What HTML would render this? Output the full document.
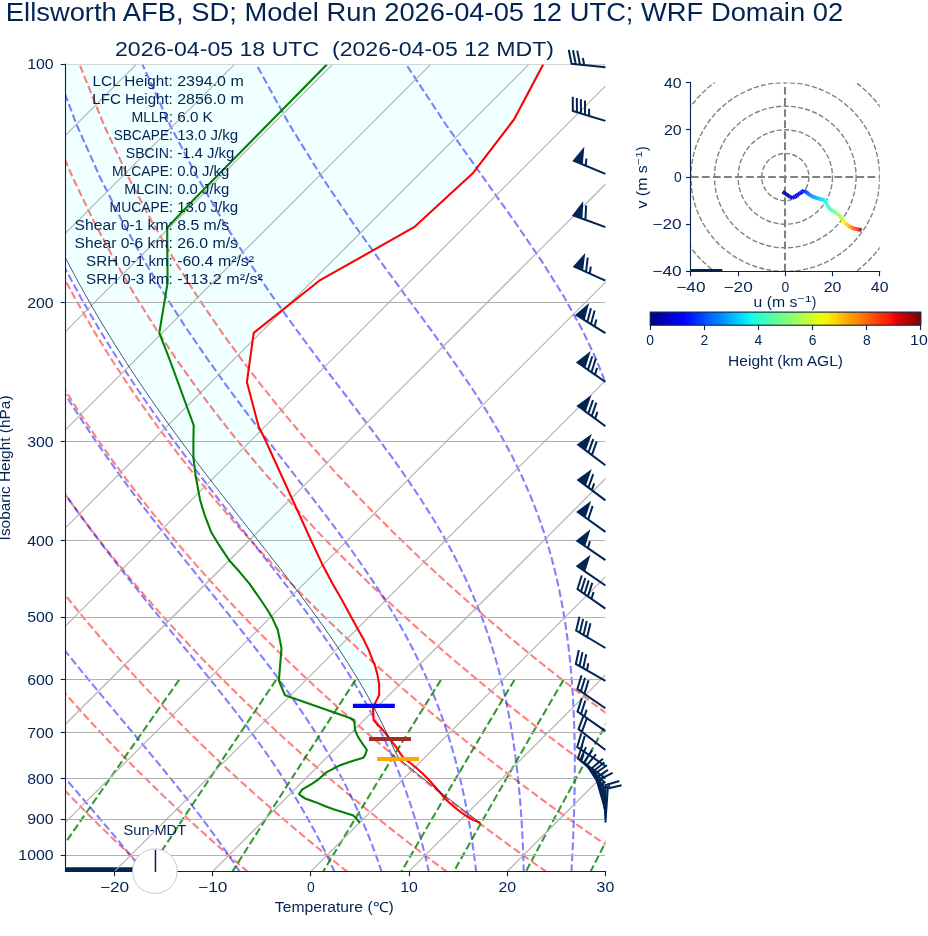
<!DOCTYPE html>
<html><head><meta charset="utf-8"><title>Skew-T Ellsworth AFB</title>
<style>
html,body{margin:0;padding:0;background:#fff;}
body{width:928px;height:936px;overflow:hidden;font-family:"Liberation Sans",sans-serif;}
svg{display:block;font-family:"Liberation Sans",sans-serif;opacity:0.9999;will-change:transform;}
svg text{white-space:pre;}
</style></head><body>
<svg width="928" height="936" viewBox="0 0 928 936">
<rect width="928" height="936" fill="#ffffff"/>
<defs><clipPath id="cm"><rect x="65.5" y="64.4" width="539.9" height="807"/></clipPath></defs>
<g clip-path="url(#cm)">
<polygon points="-11.9,64.4 -11.65,65.24 -11.4,66.09 -11.15,66.93 -10.9,67.77 -10.65,68.62 -10.4,69.46 -10.15,70.31 -9.91,71.15 -9.66,71.99 -9.41,72.84 -9.15,73.68 -8.9,74.52 -8.64,75.37 -8.38,76.21 -8.13,77.06 -7.87,77.9 -7.61,78.74 -7.35,79.59 -7.1,80.43 -6.84,81.27 -6.58,82.12 -6.32,82.96 -6.05,83.81 -5.79,84.65 -5.52,85.49 -5.26,86.34 -4.99,87.18 -4.73,88.02 -4.46,88.87 -4.2,89.71 -3.93,90.56 -3.66,91.4 -3.39,92.24 -3.11,93.09 -2.84,93.93 -2.57,94.77 -2.29,95.62 -2.02,96.46 -1.75,97.3 -1.47,98.15 -1.2,98.99 -0.92,99.84 -0.64,100.68 -0.36,101.52 -0.08,102.37 0.2,103.21 0.48,104.05 0.76,104.9 1.05,105.74 1.33,106.59 1.61,107.43 1.89,108.27 2.18,109.12 2.47,109.96 2.76,110.8 3.05,111.65 3.34,112.49 3.63,113.34 3.92,114.18 4.21,115.02 4.5,115.87 4.79,116.71 5.08,117.55 5.38,118.4 5.68,119.24 5.97,120.09 6.27,120.93 6.57,121.77 6.87,122.62 7.17,123.46 7.46,124.3 7.76,125.15 8.06,125.99 8.37,126.83 8.67,127.68 8.98,128.52 9.29,129.37 9.59,130.21 9.9,131.05 10.21,131.9 10.51,132.74 10.82,133.58 11.12,134.43 11.44,135.27 11.75,136.12 12.07,136.96 12.38,137.8 12.7,138.65 13.01,139.49 13.33,140.33 13.64,141.18 13.96,142.02 14.27,142.87 14.59,143.71 14.91,144.55 15.23,145.4 15.56,146.24 15.88,147.08 16.2,147.93 16.53,148.77 16.85,149.62 17.17,150.46 17.5,151.3 17.82,152.15 18.15,152.99 18.48,153.83 18.81,154.68 19.15,155.52 19.48,156.36 19.81,157.21 20.14,158.05 20.47,158.9 20.81,159.74 21.14,160.58 21.47,161.43 21.81,162.27 22.15,163.11 22.49,163.96 22.83,164.8 23.17,165.65 23.52,166.49 23.86,167.33 24.2,168.18 24.54,169.02 24.88,169.86 25.23,170.71 25.57,171.55 25.92,172.4 26.27,173.24 26.62,174.08 26.97,174.93 27.32,175.77 27.67,176.61 28.02,177.46 28.37,178.3 28.72,179.15 29.08,179.99 29.44,180.83 29.8,181.68 30.15,182.52 30.51,183.36 30.87,184.21 31.23,185.05 31.59,185.89 31.94,186.74 32.3,187.58 32.67,188.43 33.04,189.27 33.4,190.11 33.77,190.96 34.14,191.8 34.5,192.64 34.87,193.49 35.24,194.33 35.6,195.18 35.97,196.02 36.34,196.86 36.72,197.71 37.09,198.55 37.47,199.39 37.84,200.24 38.22,201.08 38.6,201.93 38.97,202.77 39.35,203.61 39.72,204.46 40.1,205.3 40.48,206.14 40.87,206.99 41.25,207.83 41.64,208.68 42.02,209.52 42.41,210.36 42.79,211.21 43.18,212.05 43.56,212.89 43.95,213.74 44.34,214.58 44.73,215.43 45.12,216.27 45.52,217.11 45.91,217.96 46.31,218.8 46.7,219.64 47.09,220.49 47.49,221.33 47.88,222.17 48.28,223.02 48.68,223.86 49.08,224.71 49.48,225.55 49.89,226.39 50.29,227.24 50.69,228.08 51.09,228.92 51.5,229.77 51.9,230.61 52.3,231.46 52.71,232.3 53.12,233.14 53.54,233.99 53.95,234.83 54.36,235.67 54.77,236.52 55.18,237.36 55.59,238.21 56.01,239.05 56.42,239.89 56.83,240.74 57.26,241.58 57.68,242.42 58.1,243.27 58.52,244.11 58.94,244.96 59.36,245.8 59.78,246.64 60.2,247.49 60.62,248.33 61.04,249.17 61.47,250.02 61.9,250.86 62.33,251.7 62.76,252.55 63.19,253.39 63.62,254.24 64.05,255.08 64.48,255.92 64.91,256.77 65.34,257.61 65.78,258.45 66.22,259.3 66.66,260.14 67.1,260.99 67.54,261.83 67.98,262.67 68.42,263.52 68.86,264.36 69.29,265.2 69.73,266.05 70.17,266.89 70.62,267.74 71.07,268.58 71.52,269.42 71.97,270.27 72.42,271.11 72.87,271.95 73.32,272.8 73.76,273.64 74.21,274.49 74.66,275.33 75.12,276.17 75.57,277.02 76.03,277.86 76.49,278.7 76.95,279.55 77.41,280.39 77.86,281.23 78.32,282.08 78.78,282.92 79.24,283.77 79.7,284.61 80.17,285.45 80.63,286.3 81.1,287.14 81.57,287.98 82.04,288.83 82.5,289.67 82.97,290.52 83.44,291.36 83.91,292.2 84.37,293.05 84.85,293.89 85.33,294.73 85.8,295.58 86.28,296.42 86.76,297.27 87.23,298.11 87.71,298.95 88.19,299.8 88.66,300.64 89.14,301.48 89.62,302.33 90.11,303.17 90.59,304.02 91.08,304.86 91.57,305.7 92.05,306.55 92.54,307.39 93.03,308.23 93.51,309.08 94,309.92 94.48,310.76 94.98,311.61 95.48,312.45 95.97,313.3 96.47,314.14 96.96,314.98 97.46,315.83 97.95,316.67 98.45,317.51 98.95,318.36 99.44,319.2 99.94,320.05 100.45,320.89 100.95,321.73 101.46,322.58 101.96,323.42 102.47,324.26 102.97,325.11 103.48,325.95 103.98,326.8 104.49,327.64 105,328.48 105.51,329.33 106.03,330.17 106.54,331.01 107.06,331.86 107.57,332.7 108.08,333.55 108.6,334.39 109.11,335.23 109.63,336.08 110.14,336.92 110.66,337.76 111.19,338.61 111.71,339.45 112.24,340.29 112.76,341.14 113.29,341.98 113.81,342.83 114.33,343.67 114.86,344.51 115.38,345.36 115.91,346.2 116.44,347.04 116.98,347.89 117.51,348.73 118.04,349.58 118.58,350.42 119.11,351.26 119.64,352.11 120.18,352.95 120.71,353.79 121.24,354.64 121.79,355.48 122.33,356.33 122.87,357.17 123.42,358.01 123.96,358.86 124.5,359.7 125.04,360.54 125.59,361.39 126.13,362.23 126.67,363.08 127.22,363.92 127.77,364.76 128.33,365.61 128.88,366.45 129.43,367.29 129.98,368.14 130.53,368.98 131.09,369.82 131.64,370.67 132.19,371.51 132.74,372.36 133.31,373.2 133.87,374.04 134.43,374.89 134.99,375.73 135.55,376.57 136.11,377.42 136.68,378.26 137.24,379.11 137.8,379.95 138.36,380.79 138.93,381.64 139.5,382.48 140.07,383.32 140.64,384.17 141.21,385.01 141.78,385.86 142.35,386.7 142.92,387.54 143.49,388.39 144.06,389.23 144.64,390.07 145.22,390.92 145.8,391.76 146.38,392.61 146.95,393.45 147.53,394.29 148.11,395.14 148.69,395.98 149.27,396.82 149.85,397.67 150.43,398.51 151.02,399.35 151.61,400.2 152.2,401.04 152.79,401.89 153.37,402.73 153.96,403.57 154.55,404.42 155.14,405.26 155.73,406.1 156.32,406.95 156.91,407.79 157.51,408.64 158.1,409.48 158.7,410.32 159.3,411.17 159.89,412.01 160.49,412.85 161.09,413.7 161.69,414.54 162.28,415.39 162.88,416.23 163.49,417.07 164.09,417.92 164.7,418.76 165.3,419.6 165.91,420.45 166.51,421.29 167.12,422.14 167.73,422.98 168.33,423.82 168.94,424.67 169.55,425.51 170.16,426.35 170.77,427.2 171.39,428.04 172,428.88 172.62,429.73 173.23,430.57 173.84,431.42 174.46,432.26 175.07,433.1 175.68,433.95 176.31,434.79 176.93,435.63 177.55,436.48 178.17,437.32 178.79,438.17 179.41,439.01 180.04,439.85 180.66,440.7 181.28,441.54 181.9,442.38 182.53,443.23 183.16,444.07 183.79,444.92 184.41,445.76 185.04,446.6 185.67,447.45 186.3,448.29 186.93,449.13 187.56,449.98 188.19,450.82 188.82,451.67 189.45,452.51 190.09,453.35 190.73,454.2 191.36,455.04 192,455.88 192.63,456.73 193.27,457.57 193.91,458.42 194.54,459.26 195.18,460.1 195.82,460.95 196.46,461.79 197.1,462.63 197.75,463.48 198.39,464.32 199.03,465.16 199.67,466.01 200.32,466.85 200.96,467.7 201.6,468.54 202.25,469.38 202.9,470.23 203.54,471.07 204.19,471.91 204.84,472.76 205.49,473.6 206.14,474.45 206.79,475.29 207.43,476.13 208.08,476.98 208.73,477.82 209.38,478.66 210.04,479.51 210.69,480.35 211.35,481.2 212,482.04 212.65,482.88 213.31,483.73 213.96,484.57 214.61,485.41 215.27,486.26 215.92,487.1 216.58,487.95 217.24,488.79 217.9,489.63 218.56,490.48 219.21,491.32 219.87,492.16 220.53,493.01 221.19,493.85 221.85,494.69 222.51,495.54 223.17,496.38 223.83,497.23 224.49,498.07 225.15,498.91 225.82,499.76 226.48,500.6 227.14,501.44 227.8,502.29 228.47,503.13 229.13,503.98 229.79,504.82 230.46,505.66 231.12,506.51 231.79,507.35 232.45,508.19 233.12,509.04 233.78,509.88 234.45,510.73 235.11,511.57 235.78,512.41 236.44,513.26 237.11,514.1 237.78,514.94 238.44,515.79 239.11,516.63 239.78,517.48 240.44,518.32 241.11,519.16 241.78,520.01 242.45,520.85 243.11,521.69 243.78,522.54 244.45,523.38 245.12,524.22 245.78,525.07 246.45,525.91 247.12,526.76 247.79,527.6 248.46,528.44 249.12,529.29 249.79,530.13 250.46,530.97 251.13,531.82 251.8,532.66 252.46,533.51 253.13,534.35 253.8,535.19 254.47,536.04 255.14,536.88 255.8,537.72 256.47,538.57 257.14,539.41 257.81,540.26 258.47,541.1 259.14,541.94 259.81,542.79 260.47,543.63 261.14,544.47 261.81,545.32 262.47,546.16 263.14,547.01 263.81,547.85 264.47,548.69 265.14,549.54 265.8,550.38 266.47,551.22 267.13,552.07 267.8,552.91 268.46,553.75 269.13,554.6 269.79,555.44 270.45,556.29 271.12,557.13 271.78,557.97 272.44,558.82 273.1,559.66 273.76,560.5 274.42,561.35 275.08,562.19 275.74,563.04 276.41,563.88 277.07,564.72 277.73,565.57 278.38,566.41 279.04,567.25 279.7,568.1 280.35,568.94 281.01,569.79 281.67,570.63 282.32,571.47 282.98,572.32 283.63,573.16 284.29,574 284.94,574.85 285.59,575.69 286.24,576.54 286.89,577.38 287.54,578.22 288.19,579.07 288.84,579.91 289.49,580.75 290.14,581.6 290.79,582.44 291.44,583.28 292.09,584.13 292.73,584.97 293.37,585.82 294.02,586.66 294.66,587.5 295.3,588.35 295.94,589.19 296.59,590.03 297.23,590.88 297.87,591.72 298.51,592.57 299.14,593.41 299.78,594.25 300.41,595.1 301.05,595.94 301.68,596.78 302.31,597.63 302.95,598.47 303.58,599.32 304.22,600.16 304.85,601 305.47,601.85 306.1,602.69 306.72,603.53 307.35,604.38 307.97,605.22 308.6,606.07 309.22,606.91 309.84,607.75 310.47,608.6 311.09,609.44 311.71,610.28 312.32,611.13 312.94,611.97 313.55,612.81 314.16,613.66 314.78,614.5 315.39,615.35 316,616.19 316.62,617.03 317.23,617.88 317.84,618.72 318.44,619.56 319.04,620.41 319.64,621.25 320.25,622.1 320.85,622.94 321.45,623.78 322.05,624.63 322.65,625.47 323.25,626.31 323.85,627.16 324.44,628 325.03,628.85 325.62,629.69 326.21,630.53 326.8,631.38 327.39,632.22 327.97,633.06 328.56,633.91 329.15,634.75 329.74,635.6 330.32,636.44 330.9,637.28 331.47,638.13 332.04,638.97 332.62,639.81 333.19,640.66 333.77,641.5 334.34,642.34 334.91,643.19 335.49,644.03 336.06,644.88 336.62,645.72 337.18,646.56 337.74,647.41 338.3,648.25 338.86,649.09 339.42,649.94 339.98,650.78 340.54,651.63 341.1,652.47 341.66,653.31 342.21,654.16 342.75,655 343.3,655.84 343.84,656.69 344.39,657.53 344.93,658.38 345.47,659.22 346.02,660.06 346.56,660.91 347.1,661.75 347.65,662.59 348.18,663.44 348.7,664.28 349.23,665.13 349.76,665.97 350.29,666.81 350.81,667.66 351.34,668.5 351.87,669.34 352.4,670.19 352.92,671.03 353.44,671.87 353.95,672.72 354.46,673.56 354.98,674.41 355.49,675.25 356,676.09 356.51,676.94 357.02,677.78 357.53,678.62 358.04,679.47 358.55,680.31 359.04,681.16 359.54,682 360.03,682.84 360.53,683.69 361.02,684.53 361.51,685.37 362.01,686.22 362.5,687.06 363,687.91 363.49,688.75 363.97,689.59 364.45,690.44 364.93,691.28 365.4,692.12 365.88,692.97 366.36,693.81 366.83,694.66 367.31,695.5 367.79,696.34 368.26,697.19 368.73,698.03 369.19,698.87 369.65,699.72 370.11,700.56 370.57,701.41 371.03,702.25 371.49,703.09 371.95,703.94 372.41,704.78 372.87,705.62 373.33,706.47 373.8,706.47 374.13,705.62 374.46,704.78 374.79,703.94 375.15,703.09 375.58,702.25 376,701.41 376.42,700.56 376.84,699.72 377.26,698.87 377.68,698.03 378.11,697.19 378.53,696.34 378.95,695.5 379.2,694.66 379.19,693.81 379.18,692.97 379.17,692.12 379.17,691.28 379.16,690.44 379.15,689.59 379.14,688.75 379.14,687.91 379.13,687.06 379.12,686.22 379.11,685.37 379.1,684.53 379.04,683.69 378.9,682.84 378.75,682 378.6,681.16 378.45,680.31 378.3,679.47 378.15,678.62 378.01,677.78 377.86,676.94 377.71,676.09 377.56,675.25 377.37,674.41 377.14,673.56 376.92,672.72 376.7,671.87 376.47,671.03 376.25,670.19 376.02,669.34 375.8,668.5 375.57,667.66 375.35,666.81 375.12,665.97 374.83,665.13 374.45,664.28 374.06,663.44 373.68,662.59 373.3,661.75 372.91,660.91 372.53,660.06 372.21,659.22 371.9,658.38 371.59,657.53 371.28,656.69 370.96,655.84 370.65,655 370.34,654.16 370.03,653.31 369.72,652.47 369.41,651.63 369.09,650.78 368.68,649.94 368.28,649.09 367.87,648.25 367.46,647.41 367.06,646.56 366.65,645.72 366.24,644.88 365.84,644.03 365.43,643.19 365.02,642.34 364.62,641.5 364.21,640.66 363.8,639.81 363.35,638.97 362.88,638.13 362.41,637.28 361.94,636.44 361.48,635.6 361.01,634.75 360.54,633.91 360.07,633.06 359.6,632.22 359.13,631.38 358.66,630.53 358.19,629.69 357.73,628.85 357.26,628 356.79,627.16 356.33,626.31 355.86,625.47 355.39,624.63 354.93,623.78 354.46,622.94 354,622.1 353.53,621.25 353.07,620.41 352.6,619.56 352.14,618.72 351.67,617.88 351.2,617.03 350.74,616.19 350.28,615.35 349.83,614.5 349.37,613.66 348.91,612.81 348.46,611.97 348,611.13 347.54,610.28 347.08,609.44 346.63,608.6 346.17,607.75 345.71,606.91 345.26,606.07 344.8,605.22 344.34,604.38 343.89,603.53 343.43,602.69 342.97,601.85 342.51,601 342.06,600.16 341.59,599.32 341.1,598.47 340.61,597.63 340.12,596.78 339.63,595.94 339.14,595.1 338.65,594.25 338.16,593.41 337.67,592.57 337.18,591.72 336.69,590.88 336.2,590.03 335.71,589.19 335.22,588.35 334.73,587.5 334.24,586.66 333.75,585.82 333.26,584.97 332.77,584.13 332.32,583.28 331.88,582.44 331.43,581.6 330.99,580.75 330.54,579.91 330.1,579.07 329.65,578.22 329.21,577.38 328.76,576.54 328.32,575.69 327.87,574.85 327.43,574 326.98,573.16 326.54,572.32 326.09,571.47 325.65,570.63 325.2,569.79 324.76,568.94 324.31,568.1 323.87,567.25 323.42,566.41 322.98,565.57 322.53,564.72 322.09,563.88 321.69,563.04 321.3,562.19 320.9,561.35 320.51,560.5 320.11,559.66 319.72,558.82 319.32,557.97 318.93,557.13 318.53,556.29 318.14,555.44 317.74,554.6 317.35,553.75 316.95,552.91 316.56,552.07 316.16,551.22 315.76,550.38 315.37,549.54 314.97,548.69 314.58,547.85 314.18,547.01 313.79,546.16 313.39,545.32 313,544.47 312.6,543.63 312.21,542.79 311.81,541.94 311.42,541.1 311.02,540.26 310.63,539.41 310.25,538.57 309.86,537.72 309.48,536.88 309.09,536.04 308.71,535.19 308.32,534.35 307.94,533.51 307.55,532.66 307.17,531.82 306.78,530.97 306.4,530.13 306.01,529.29 305.63,528.44 305.25,527.6 304.86,526.76 304.48,525.91 304.09,525.07 303.71,524.22 303.32,523.38 302.94,522.54 302.55,521.69 302.17,520.85 301.78,520.01 301.4,519.16 301.01,518.32 300.63,517.48 300.24,516.63 299.86,515.79 299.47,514.94 299.09,514.1 298.7,513.26 298.32,512.41 297.94,511.57 297.55,510.73 297.17,509.88 296.78,509.04 296.4,508.19 296.01,507.35 295.63,506.51 295.24,505.66 294.86,504.82 294.47,503.98 294.09,503.13 293.7,502.29 293.32,501.44 292.93,500.6 292.55,499.76 292.16,498.91 291.78,498.07 291.4,497.23 291.01,496.38 290.63,495.54 290.24,494.69 289.86,493.85 289.47,493.01 289.09,492.16 288.7,491.32 288.32,490.48 287.93,489.63 287.55,488.79 287.16,487.95 286.78,487.1 286.39,486.26 286.01,485.41 285.62,484.57 285.24,483.73 284.85,482.88 284.47,482.04 284.09,481.2 283.7,480.35 283.32,479.51 282.93,478.66 282.55,477.82 282.16,476.98 281.78,476.13 281.39,475.29 281.01,474.45 280.62,473.6 280.24,472.76 279.85,471.91 279.47,471.07 279.08,470.23 278.7,469.38 278.31,468.54 277.93,467.7 277.54,466.85 277.16,466.01 276.78,465.16 276.39,464.32 276.01,463.48 275.62,462.63 275.24,461.79 274.85,460.95 274.47,460.1 274.08,459.26 273.7,458.42 273.31,457.57 272.93,456.73 272.54,455.88 272.16,455.04 271.77,454.2 271.39,453.35 271,452.51 270.62,451.67 270.23,450.82 269.85,449.98 269.47,449.13 269.08,448.29 268.7,447.45 268.31,446.6 267.93,445.76 267.54,444.92 267.16,444.07 266.77,443.23 266.39,442.38 266,441.54 265.62,440.7 265.23,439.85 264.82,439.01 264.41,438.17 264,437.32 263.59,436.48 263.18,435.63 262.77,434.79 262.36,433.95 261.95,433.1 261.54,432.26 261.13,431.42 260.72,430.57 260.31,429.73 259.9,428.88 259.49,428.04 259.08,427.2 258.67,426.35 258.37,425.51 258.15,424.67 257.92,423.82 257.7,422.98 257.48,422.14 257.26,421.29 257.03,420.45 256.81,419.6 256.59,418.76 256.36,417.92 256.14,417.07 255.92,416.23 255.7,415.39 255.47,414.54 255.25,413.7 255.03,412.85 254.8,412.01 254.58,411.17 254.36,410.32 254.13,409.48 253.91,408.64 253.69,407.79 253.47,406.95 253.24,406.1 253.02,405.26 252.8,404.42 252.57,403.57 252.35,402.73 252.13,401.89 251.91,401.04 251.68,400.2 251.46,399.35 251.24,398.51 251.01,397.67 250.79,396.82 250.57,395.98 250.34,395.14 250.12,394.29 249.9,393.45 249.68,392.61 249.45,391.76 249.23,390.92 249.01,390.07 248.78,389.23 248.56,388.39 248.34,387.54 248.12,386.7 247.89,385.86 247.67,385.01 247.45,384.17 247.22,383.32 247,382.48 246.96,381.64 247.08,380.79 247.2,379.95 247.31,379.11 247.43,378.26 247.55,377.42 247.66,376.57 247.78,375.73 247.9,374.89 248.01,374.04 248.13,373.2 248.25,372.36 248.36,371.51 248.48,370.67 248.6,369.82 248.71,368.98 248.83,368.14 248.95,367.29 249.06,366.45 249.18,365.61 249.3,364.76 249.41,363.92 249.53,363.08 249.65,362.23 249.76,361.39 249.88,360.54 250,359.7 250.11,358.86 250.23,358.01 250.35,357.17 250.46,356.33 250.58,355.48 250.7,354.64 250.81,353.79 250.93,352.95 251.05,352.11 251.16,351.26 251.28,350.42 251.4,349.58 251.51,348.73 251.63,347.89 251.75,347.04 251.86,346.2 251.98,345.36 252.09,344.51 252.21,343.67 252.33,342.83 252.44,341.98 252.56,341.14 252.68,340.29 252.79,339.45 252.91,338.61 253.03,337.76 253.14,336.92 253.26,336.08 253.38,335.23 253.49,334.39 253.61,333.55 253.95,332.7 255.01,331.86 256.07,331.01 257.13,330.17 258.19,329.33 259.25,328.48 260.31,327.64 261.37,326.8 262.43,325.95 263.49,325.11 264.55,324.26 265.61,323.42 266.67,322.58 267.73,321.73 268.79,320.89 269.85,320.05 270.91,319.2 271.97,318.36 273.03,317.51 274.1,316.67 275.16,315.83 276.22,314.98 277.28,314.14 278.34,313.3 279.4,312.45 280.46,311.61 281.52,310.76 282.58,309.92 283.64,309.08 284.7,308.23 285.76,307.39 286.82,306.55 287.88,305.7 288.94,304.86 290,304.02 291.06,303.17 292.12,302.33 293.18,301.48 294.24,300.64 295.3,299.8 296.36,298.95 297.42,298.11 298.48,297.27 299.54,296.42 300.6,295.58 301.66,294.73 302.72,293.89 303.78,293.05 304.84,292.2 305.9,291.36 306.96,290.52 308.02,289.67 309.09,288.83 310.15,287.98 311.21,287.14 312.27,286.3 313.33,285.45 314.39,284.61 315.45,283.77 316.51,282.92 317.57,282.08 318.63,281.23 319.85,280.39 321.34,279.55 322.84,278.7 324.33,277.86 325.83,277.02 327.32,276.17 328.82,275.33 330.31,274.49 331.81,273.64 333.3,272.8 334.8,271.95 336.29,271.11 337.79,270.27 339.28,269.42 340.78,268.58 342.27,267.74 343.77,266.89 345.26,266.05 346.76,265.2 348.25,264.36 349.75,263.52 351.24,262.67 352.74,261.83 354.23,260.99 355.73,260.14 357.22,259.3 358.72,258.45 360.21,257.61 361.71,256.77 363.2,255.92 364.7,255.08 366.19,254.24 367.69,253.39 369.18,252.55 370.68,251.7 372.17,250.86 373.67,250.02 375.16,249.17 376.66,248.33 378.15,247.49 379.65,246.64 381.14,245.8 382.64,244.96 384.13,244.11 385.63,243.27 387.12,242.42 388.62,241.58 390.11,240.74 391.61,239.89 393.1,239.05 394.6,238.21 396.09,237.36 397.59,236.52 399.08,235.67 400.58,234.83 402.07,233.99 403.57,233.14 405.06,232.3 406.56,231.46 408.05,230.61 409.55,229.77 411.04,228.92 412.54,228.08 414.03,227.24 414.98,226.39 415.89,225.55 416.81,224.71 417.73,223.86 418.64,223.02 419.56,222.17 420.48,221.33 421.39,220.49 422.31,219.64 423.23,218.8 424.14,217.96 425.06,217.11 425.98,216.27 426.89,215.43 427.81,214.58 428.73,213.74 429.64,212.89 430.56,212.05 431.48,211.21 432.39,210.36 433.31,209.52 434.23,208.68 435.14,207.83 436.06,206.99 436.98,206.14 437.9,205.3 438.81,204.46 439.73,203.61 440.65,202.77 441.56,201.93 442.48,201.08 443.4,200.24 444.31,199.39 445.23,198.55 446.15,197.71 447.06,196.86 447.98,196.02 448.9,195.18 449.81,194.33 450.73,193.49 451.65,192.64 452.56,191.8 453.48,190.96 454.4,190.11 455.31,189.27 456.23,188.43 457.15,187.58 458.06,186.74 458.98,185.89 459.9,185.05 460.81,184.21 461.73,183.36 462.65,182.52 463.56,181.68 464.48,180.83 465.4,179.99 466.31,179.15 467.23,178.3 468.15,177.46 469.06,176.61 469.98,175.77 470.9,174.93 471.81,174.08 472.73,173.24 473.49,172.4 474.13,171.55 474.78,170.71 475.43,169.86 476.07,169.02 476.72,168.18 477.36,167.33 478.01,166.49 478.66,165.65 479.3,164.8 479.95,163.96 480.59,163.11 481.24,162.27 481.89,161.43 482.53,160.58 483.18,159.74 483.83,158.9 484.47,158.05 485.12,157.21 485.76,156.36 486.41,155.52 487.06,154.68 487.7,153.83 488.35,152.99 489,152.15 489.64,151.3 490.29,150.46 490.93,149.62 491.58,148.77 492.23,147.93 492.87,147.08 493.52,146.24 494.17,145.4 494.81,144.55 495.46,143.71 496.1,142.87 496.75,142.02 497.4,141.18 498.04,140.33 498.69,139.49 499.34,138.65 499.98,137.8 500.63,136.96 501.27,136.12 501.92,135.27 502.57,134.43 503.21,133.58 503.86,132.74 504.5,131.9 505.15,131.05 505.8,130.21 506.44,129.37 507.09,128.52 507.74,127.68 508.38,126.83 509.03,125.99 509.67,125.15 510.32,124.3 510.97,123.46 511.61,122.62 512.26,121.77 512.91,120.93 513.55,120.09 514.14,119.24 514.58,118.4 515.03,117.55 515.48,116.71 515.93,115.87 516.37,115.02 516.82,114.18 517.27,113.34 517.71,112.49 518.16,111.65 518.61,110.8 519.06,109.96 519.5,109.12 519.95,108.27 520.4,107.43 520.84,106.59 521.29,105.74 521.74,104.9 522.19,104.05 522.63,103.21 523.08,102.37 523.53,101.52 523.97,100.68 524.42,99.84 524.87,98.99 525.32,98.15 525.76,97.3 526.21,96.46 526.66,95.62 527.1,94.77 527.55,93.93 528,93.09 528.44,92.24 528.89,91.4 529.34,90.56 529.79,89.71 530.23,88.87 530.68,88.02 531.13,87.18 531.57,86.34 532.02,85.49 532.47,84.65 532.92,83.81 533.36,82.96 533.81,82.12 534.26,81.27 534.7,80.43 535.15,79.59 535.6,78.74 536.05,77.9 536.49,77.06 536.94,76.21 537.39,75.37 537.83,74.52 538.28,73.68 538.73,72.84 539.18,71.99 539.62,71.15 540.07,70.31 540.52,69.46 540.96,68.62 541.41,67.77 541.86,66.93 542.31,66.09 542.75,65.24 543.2,64.4" fill="#f0ffff"/>
<polygon points="388.85,737.68 389.24,738.53 389.63,739.37 390.02,740.22 390.41,741.06 390.8,741.9 391.17,742.75 391.55,743.59 391.92,744.43 392.29,745.28 392.67,746.12 393.04,746.97 393.41,747.81 393.79,748.65 394.16,749.5 394.53,750.34 394.98,751.18 395.46,752.03 395.94,752.87 396.42,753.72 396.89,754.56 397.37,755.4 397.85,756.25 398.33,757.09 398.81,757.93 399.29,758.78 399.91,759.62 400.94,760.47 401.97,761.31 403,762.15 404.03,763 405.06,763.84 406.09,764.68 407.12,765.53 408.15,766.37 409.18,767.21 410.21,768.06 411.24,768.9 412.27,769.75 413.32,770.59 414.36,771.43 415.41,772.28 416.45,773.12 417.5,773.96 418.54,774.81 419.58,775.65 420.63,776.5 421.67,777.34 422.72,778.18 423.77,779.03 424.83,779.87 425.88,780.71 426.94,781.56 428,782.4 429.06,783.25 430.12,784.09 431.18,784.93 432.24,785.78 433.3,786.62 434.36,787.46 435.42,788.31 436.49,789.15 437.57,790 438.64,790.84 438.67,790.84 437.91,790 437.16,789.15 436.4,788.31 435.64,787.46 434.89,786.62 434.13,785.78 433.38,784.93 432.63,784.09 431.87,783.25 431.12,782.4 430.37,781.56 429.62,780.71 428.86,779.87 428.03,779.03 427.18,778.18 426.34,777.34 425.5,776.5 424.65,775.65 423.81,774.81 422.96,773.96 422.1,773.12 421.17,772.28 420.24,771.43 419.31,770.59 418.38,769.75 417.45,768.9 416.52,768.06 415.54,767.21 414.49,766.37 413.43,765.53 412.38,764.68 411.32,763.84 410.27,763 409.2,762.15 408.08,761.31 406.95,760.47 405.83,759.62 404.7,758.78 403.81,757.93 403.1,757.09 402.39,756.25 401.68,755.4 400.97,754.56 400.44,753.72 399.9,752.87 399.37,752.03 398.84,751.18 398.3,750.34 397.77,749.5 397.23,748.65 396.7,747.81 396.08,746.97 395.43,746.12 394.77,745.28 394.11,744.43 393.45,743.59 392.79,742.75 392.14,741.9 391.49,741.06 390.86,740.22 390.22,739.37 389.58,738.53 388.95,737.68" fill="#f0ffff"/>
<polygon points="373.77,707.31 374.22,708.15 374.66,709 375.1,709.84 375.54,710.69 375.98,711.53 376.42,712.37 376.87,713.22 377.31,714.06 377.75,714.9 378.19,715.75 378.61,716.59 379.03,717.44 379.46,718.28 379.88,719.12 380.31,719.97 380.73,720.81 381.16,721.65 381.58,722.5 382.01,723.34 382.43,724.19 382.84,725.03 383.25,725.87 383.65,726.72 384.06,727.56 384.47,728.4 384.87,729.25 385.28,730.09 385.69,730.94 386.1,731.78 386.5,732.62 386.9,733.47 387.29,734.31 387.68,735.15 388.07,736 388.46,736.84 388.31,736.84 387.65,736 386.96,735.15 386.27,734.31 385.59,733.47 384.9,732.62 384.21,731.78 383.52,730.94 382.83,730.09 382.14,729.25 381.36,728.4 380.57,727.56 379.78,726.72 378.99,725.87 378.21,725.03 377.42,724.19 376.63,723.34 375.84,722.5 375.06,721.65 374.27,720.81 373.69,719.97 373.64,719.12 373.59,718.28 373.53,717.44 373.48,716.59 373.43,715.75 373.38,714.9 373.33,714.06 373.28,713.22 373.23,712.37 373.18,711.53 373.13,710.69 373.08,709.84 373.03,709 373.14,708.15 373.47,707.31" fill="#fff0f0"/>
<polygon points="439.72,791.68 440.79,792.53 441.86,793.37 442.94,794.21 444.01,795.06 445.08,795.9 446.16,796.74 447.24,797.59 448.33,798.43 449.42,799.28 450.5,800.12 451.59,800.96 452.68,801.81 453.77,802.65 454.86,803.49 455.94,804.34 457.03,805.18 458.12,806.03 459.22,806.87 460.33,807.71 461.43,808.56 462.53,809.4 463.63,810.24 464.73,811.09 465.84,811.93 466.94,812.78 468.04,813.62 469.14,814.46 470.26,815.31 471.37,816.15 472.49,816.99 473.6,817.84 474.72,818.68 475.84,819.53 476.95,820.37 478.07,821.21 479.18,822.06 480.3,822.9 480.3,822.9 478.19,822.06 476.08,821.21 473.97,820.37 472.18,819.53 470.77,818.68 469.36,817.84 467.96,816.99 466.55,816.15 465.3,815.31 464.08,814.46 462.86,813.62 461.64,812.78 460.42,811.93 459.29,811.09 458.25,810.24 457.22,809.4 456.18,808.56 455.14,807.71 454.1,806.87 453.08,806.03 452.11,805.18 451.13,804.34 450.16,803.49 449.18,802.65 448.21,801.81 447.38,800.96 446.56,800.12 445.73,799.28 444.91,798.43 444.08,797.59 443.35,796.74 442.71,795.9 442.06,795.06 441.42,794.21 440.77,793.37 440.13,792.53 439.43,791.68" fill="#fff0f0"/>
<line x1="65.5" y1="871.4" x2="155.48" y2="871.4" stroke="#002453" stroke-width="8.4"/>
<g fill="none" stroke-width="2.08" stroke-dasharray="7.71 3.33" stroke-opacity="0.5">
<g stroke="#ff0000">
<polyline points="-50.38,872.16 -56.3,865.76 -62.27,859.23 -68.28,852.58 -74.34,845.8 -80.45,838.88 -86.61,831.82 -92.82,824.62 -99.07,817.25 -105.38,809.73 -111.74,802.04 -118.15,794.17 -124.62,786.11 -131.14,777.87 -137.72,769.42 -144.35,760.75 -151.04,751.87 -157.79,742.74 -164.6,733.37 -171.47,723.74 -178.4,713.83 -185.39,703.62 -192.44,693.1 -199.56,682.25 -206.74,671.04 -213.98,659.46 -221.28,647.47 -228.65,635.05 -236.07,622.16 -243.56,608.77 -251.11,594.83 -258.71,580.31 -266.36,565.15 -274.06,549.28 -281.81,532.65 -289.58,515.17 -297.38,496.76 -305.19,477.3 -312.99,456.67 -320.75,434.72 -328.46,411.27 -336.05,386.11 -343.49,358.96 -350.7,329.47 -357.56,297.22 -363.93,261.61 -369.6,221.89 -374.24,176.97 -377.32,125.28 -378.01,64.4"/>
<polyline points="49.16,872.16 42.71,865.76 36.21,859.23 29.65,852.58 23.04,845.8 16.37,838.88 9.65,831.82 2.87,824.62 -3.97,817.25 -10.88,809.73 -17.84,802.04 -24.86,794.17 -31.95,786.11 -39.11,777.87 -46.33,769.42 -53.62,760.75 -60.98,751.87 -68.41,742.74 -75.91,733.37 -83.49,723.74 -91.14,713.83 -98.87,703.62 -106.68,693.1 -114.56,682.25 -122.53,671.04 -130.58,659.46 -138.71,647.47 -146.92,635.05 -155.22,622.16 -163.6,608.77 -172.07,594.83 -180.62,580.31 -189.25,565.15 -197.97,549.28 -206.75,532.65 -215.61,515.17 -224.53,496.76 -233.51,477.3 -242.53,456.67 -251.57,434.72 -260.61,411.27 -269.61,386.11 -278.54,358.96 -287.31,329.47 -295.85,297.22 -304.03,261.61 -311.64,221.89 -318.4,176.97 -323.84,125.28 -327.17,64.4"/>
<polyline points="148.7,872.16 141.72,865.76 134.69,859.23 127.58,852.58 120.42,845.8 113.2,838.88 105.91,831.82 98.55,824.62 91.12,817.25 83.63,809.73 76.06,802.04 68.43,794.17 60.71,786.11 52.93,777.87 45.06,769.42 37.11,760.75 29.09,751.87 20.98,742.74 12.78,733.37 4.49,723.74 -3.88,713.83 -12.35,703.62 -20.91,693.1 -29.56,682.25 -38.32,671.04 -47.17,659.46 -56.13,647.47 -65.2,635.05 -74.37,622.16 -83.65,608.77 -93.03,594.83 -102.53,580.31 -112.14,565.15 -121.87,549.28 -131.7,532.65 -141.64,515.17 -151.69,496.76 -161.84,477.3 -172.07,456.67 -182.39,434.72 -192.76,411.27 -203.17,386.11 -213.58,358.96 -223.93,329.47 -234.15,297.22 -244.12,261.61 -253.68,221.89 -262.57,176.97 -270.36,125.28 -276.32,64.4"/>
<polyline points="248.25,872.16 240.74,865.76 233.16,859.23 225.52,852.58 217.81,845.8 210.02,838.88 202.16,831.82 194.23,824.62 186.22,817.25 178.13,809.73 169.97,802.04 161.72,794.17 153.38,786.11 144.96,777.87 136.45,769.42 127.85,760.75 119.15,751.87 110.36,742.74 101.47,733.37 92.48,723.74 83.38,713.83 74.18,703.62 64.86,693.1 55.43,682.25 45.89,671.04 36.23,659.46 26.44,647.47 16.53,635.05 6.49,622.16 -3.69,608.77 -14,594.83 -24.44,580.31 -35.03,565.15 -45.77,549.28 -56.65,532.65 -67.67,515.17 -78.84,496.76 -90.16,477.3 -101.62,456.67 -113.2,434.72 -124.92,411.27 -136.73,386.11 -148.62,358.96 -160.54,329.47 -172.44,297.22 -184.21,261.61 -195.72,221.89 -206.73,176.97 -216.87,125.28 -225.48,64.4"/>
<polyline points="347.79,872.16 339.75,865.76 331.64,859.23 323.45,852.58 315.19,845.8 306.85,838.88 298.42,831.82 289.91,824.62 281.32,817.25 272.64,809.73 263.87,802.04 255.01,794.17 246.05,786.11 236.99,777.87 227.84,769.42 218.58,760.75 209.22,751.87 199.74,742.74 190.16,733.37 180.46,723.74 170.64,713.83 160.7,703.62 150.63,693.1 140.43,682.25 130.1,671.04 119.63,659.46 109.02,647.47 98.25,635.05 87.34,622.16 76.27,608.77 65.04,594.83 53.64,580.31 42.08,565.15 30.33,549.28 18.41,532.65 6.3,515.17 -6,496.76 -18.48,477.3 -31.16,456.67 -44.02,434.72 -57.07,411.27 -70.29,386.11 -83.66,358.96 -97.16,329.47 -110.73,297.22 -124.31,261.61 -137.76,221.89 -150.9,176.97 -163.39,125.28 -174.64,64.4"/>
<polyline points="447.33,872.16 438.76,865.76 430.12,859.23 421.39,852.58 412.57,845.8 403.67,838.88 394.68,831.82 385.6,824.62 376.42,817.25 367.14,809.73 357.77,802.04 348.3,794.17 338.71,786.11 329.03,777.87 319.23,769.42 309.31,760.75 299.28,751.87 289.13,742.74 278.85,733.37 268.44,723.74 257.9,713.83 247.22,703.62 236.4,693.1 225.43,682.25 214.31,671.04 203.03,659.46 191.59,647.47 179.98,635.05 168.2,622.16 156.23,608.77 144.08,594.83 131.73,580.31 119.19,565.15 106.43,549.28 93.46,532.65 80.27,515.17 66.85,496.76 53.19,477.3 39.3,456.67 25.16,434.72 10.78,411.27 -3.85,386.11 -18.7,358.96 -33.77,329.47 -49.03,297.22 -64.4,261.61 -79.8,221.89 -95.07,176.97 -109.9,125.28 -123.79,64.4"/>
<polyline points="546.87,872.16 537.78,865.76 528.59,859.23 519.32,852.58 509.96,845.8 500.49,838.88 490.94,831.82 481.28,824.62 471.52,817.25 461.65,809.73 451.67,802.04 441.58,794.17 431.38,786.11 421.06,777.87 410.62,769.42 400.05,760.75 389.35,751.87 378.51,742.74 367.54,733.37 356.42,723.74 345.16,713.83 333.74,703.62 322.17,693.1 310.43,682.25 298.52,671.04 286.43,659.46 274.16,647.47 261.71,635.05 249.05,622.16 236.19,608.77 223.12,594.83 209.82,580.31 196.3,565.15 182.53,549.28 168.51,532.65 154.24,515.17 139.7,496.76 124.87,477.3 109.76,456.67 94.34,434.72 78.62,411.27 62.6,386.11 46.25,358.96 29.61,329.47 12.68,297.22 -4.5,261.61 -21.84,221.89 -39.23,176.97 -56.42,125.28 -72.95,64.4"/>
<polyline points="646.41,872.16 636.79,865.76 627.07,859.23 617.25,852.58 607.34,845.8 597.32,838.88 587.19,831.82 576.96,824.62 566.61,817.25 556.15,809.73 545.57,802.04 534.87,794.17 524.05,786.11 513.09,777.87 502,769.42 490.78,760.75 479.41,751.87 467.89,742.74 456.23,733.37 444.4,723.74 432.42,713.83 420.26,703.62 407.93,693.1 395.42,682.25 382.73,671.04 369.83,659.46 356.74,647.47 343.43,635.05 329.9,622.16 316.15,608.77 302.15,594.83 287.91,580.31 273.41,565.15 258.63,549.28 243.57,532.65 228.21,515.17 212.54,496.76 196.55,477.3 180.21,456.67 163.53,434.72 146.47,411.27 129.04,386.11 111.21,358.96 92.99,329.47 74.39,297.22 55.41,261.61 36.12,221.89 16.6,176.97 -2.93,125.28 -22.11,64.4"/>
<polyline points="745.95,872.16 735.8,865.76 725.55,859.23 715.19,852.58 704.72,845.8 694.14,838.88 683.45,831.82 672.64,824.62 661.71,817.25 650.66,809.73 639.48,802.04 628.16,794.17 616.71,786.11 605.13,777.87 593.39,769.42 581.51,760.75 569.47,751.87 557.28,742.74 544.92,733.37 532.39,723.74 519.68,713.83 506.79,703.62 493.7,693.1 480.42,682.25 466.94,671.04 453.24,659.46 439.31,647.47 425.16,635.05 410.76,622.16 396.11,608.77 381.19,594.83 366,580.31 350.52,565.15 334.73,549.28 318.62,532.65 302.18,515.17 285.39,496.76 268.22,477.3 250.67,456.67 232.71,434.72 214.32,411.27 195.48,386.11 176.17,358.96 156.38,329.47 136.09,297.22 115.32,261.61 94.07,221.89 72.44,176.97 50.55,125.28 28.74,64.4"/>
<polyline points="845.5,872.16 834.82,865.76 824.03,859.23 813.12,852.58 802.1,845.8 790.97,838.88 779.71,831.82 768.32,824.62 756.81,817.25 745.16,809.73 733.38,802.04 721.45,794.17 709.38,786.11 697.16,777.87 684.78,769.42 672.24,760.75 659.54,751.87 646.66,742.74 633.61,733.37 620.37,723.74 606.94,713.83 593.31,703.62 579.47,693.1 565.42,682.25 551.14,671.04 536.64,659.46 521.89,647.47 506.88,635.05 491.61,622.16 476.07,608.77 460.23,594.83 444.09,580.31 427.62,565.15 410.83,549.28 393.68,532.65 376.15,515.17 358.23,496.76 339.9,477.3 321.13,456.67 301.89,434.72 282.17,411.27 261.92,386.11 241.13,358.96 219.76,329.47 197.8,297.22 175.22,261.61 152.03,221.89 128.27,176.97 104.03,125.28 79.58,64.4"/>
</g><g stroke="#0000ff">
<polyline points="-51.26,872.16 -56.82,865.76 -62.45,859.23 -68.16,852.58 -73.94,845.8 -79.79,838.88 -85.71,831.82 -91.71,824.62 -97.78,817.25 -103.92,809.73 -110.13,802.04 -116.41,794.17 -122.76,786.11 -129.18,777.87 -135.67,769.42 -142.23,760.75 -148.86,751.87 -155.56,742.74 -162.33,733.37 -169.17,723.74 -176.08,713.83 -183.05,703.62 -190.1,693.1 -197.21,682.25 -204.39,671.04 -211.63,659.46 -218.95,647.47 -226.33,635.05 -233.77,622.16 -241.28,608.77 -248.84,594.83 -256.47,580.31 -264.15,565.15 -271.87,549.28 -279.65,532.65 -287.45,515.17 -295.28,496.76 -303.12,477.3 -310.96,456.67 -318.76,434.72 -326.5,411.27 -334.14,386.11 -341.62,358.96 -348.87,329.47 -355.78,297.22 -362.21,261.61 -367.93,221.89 -372.63,176.97 -375.78,125.28 -376.55,64.4"/>
<polyline points="47.03,872.16 41.45,865.76 35.76,859.23 29.96,852.58 24.05,845.8 18.03,838.88 11.91,831.82 5.67,824.62 -0.67,817.25 -7.13,809.73 -13.68,802.04 -20.35,794.17 -27.11,786.11 -33.98,777.87 -40.96,769.42 -48.03,760.75 -55.21,751.87 -62.48,742.74 -69.86,733.37 -77.33,723.74 -84.9,713.83 -92.57,703.62 -100.34,693.1 -108.2,682.25 -116.16,671.04 -124.21,659.46 -132.36,647.47 -140.6,635.05 -148.93,622.16 -157.36,608.77 -165.88,594.83 -174.49,580.31 -183.19,565.15 -191.98,549.28 -200.84,532.65 -209.78,515.17 -218.79,496.76 -227.86,477.3 -236.97,456.67 -246.11,434.72 -255.25,411.27 -264.37,386.11 -273.41,358.96 -282.31,329.47 -290.98,297.22 -299.3,261.61 -307.06,221.89 -313.99,176.97 -319.62,125.28 -323.15,64.4"/>
<polyline points="144.2,872.16 139.04,865.76 133.73,859.23 128.26,852.58 122.64,845.8 116.87,838.88 110.94,831.82 104.85,824.62 98.6,817.25 92.19,809.73 85.62,802.04 78.89,794.17 72,786.11 64.96,777.87 57.76,769.42 50.4,760.75 42.88,751.87 35.22,742.74 27.4,733.37 19.43,723.74 11.32,713.83 3.05,703.62 -5.35,693.1 -13.9,682.25 -22.59,671.04 -31.41,659.46 -40.38,647.47 -49.48,635.05 -58.71,622.16 -68.08,608.77 -77.58,594.83 -87.22,580.31 -96.98,565.15 -106.87,549.28 -116.89,532.65 -127.03,515.17 -137.28,496.76 -147.65,477.3 -158.13,456.67 -168.69,434.72 -179.33,411.27 -190.01,386.11 -200.71,358.96 -211.37,329.47 -221.92,297.22 -232.26,261.61 -242.2,221.89 -251.51,176.97 -259.76,125.28 -266.25,64.4"/>
<polyline points="239.98,872.16 235.76,865.76 231.37,859.23 226.8,852.58 222.05,845.8 217.12,838.88 211.98,831.82 206.65,824.62 201.11,817.25 195.36,809.73 189.39,802.04 183.2,794.17 176.79,786.11 170.14,777.87 163.26,769.42 156.14,760.75 148.79,751.87 141.2,742.74 133.37,733.37 125.31,723.74 117.01,713.83 108.47,703.62 99.7,693.1 90.71,682.25 81.49,671.04 72.05,659.46 62.39,647.47 52.52,635.05 42.43,622.16 32.15,608.77 21.65,594.83 10.97,580.31 0.08,565.15 -11,549.28 -22.27,532.65 -33.72,515.17 -45.36,496.76 -57.18,477.3 -69.17,456.67 -81.33,434.72 -93.65,411.27 -106.11,386.11 -118.68,358.96 -131.32,329.47 -143.99,297.22 -156.6,261.61 -169,221.89 -180.99,176.97 -192.21,125.28 -202.04,64.4"/>
<polyline points="334.64,872.16 331.76,865.76 328.73,859.23 325.55,852.58 322.21,845.8 318.69,838.88 314.99,831.82 311.1,824.62 307,817.25 302.69,809.73 298.14,802.04 293.36,794.17 288.31,786.11 283,777.87 277.41,769.42 271.53,760.75 265.33,751.87 258.82,742.74 251.97,733.37 244.78,723.74 237.24,713.83 229.34,703.62 221.06,693.1 212.42,682.25 203.39,671.04 193.99,659.46 184.21,647.47 174.06,635.05 163.53,622.16 152.65,608.77 141.4,594.83 129.81,580.31 117.88,565.15 105.62,549.28 93.04,532.65 80.15,515.17 66.95,496.76 53.46,477.3 39.67,456.67 25.61,434.72 11.27,411.27 -3.33,386.11 -18.17,358.96 -33.25,329.47 -48.51,297.22 -63.89,261.61 -79.31,221.89 -94.59,176.97 -109.45,125.28 -123.36,64.4"/>
<polyline points="381.78,872.16 379.63,865.76 377.36,859.23 374.97,852.58 372.43,845.8 369.75,838.88 366.92,831.82 363.92,824.62 360.74,817.25 357.37,809.73 353.8,802.04 350,794.17 345.98,786.11 341.7,777.87 337.15,769.42 332.32,760.75 327.18,751.87 321.72,742.74 315.92,733.37 309.75,723.74 303.2,713.83 296.24,703.62 288.86,693.1 281.04,682.25 272.76,671.04 264,659.46 254.77,647.47 245.04,635.05 234.82,622.16 224.1,608.77 212.88,594.83 201.18,580.31 189,565.15 176.35,549.28 163.25,532.65 149.7,515.17 135.74,496.76 121.36,477.3 106.59,456.67 91.44,434.72 75.91,411.27 60.03,386.11 43.8,358.96 27.25,329.47 10.4,297.22 -6.7,261.61 -23.97,221.89 -41.28,176.97 -58.38,125.28 -74.82,64.4"/>
<polyline points="428.95,872.16 427.52,865.76 426,859.23 424.38,852.58 422.66,845.8 420.83,838.88 418.87,831.82 416.79,824.62 414.57,817.25 412.2,809.73 409.67,802.04 406.96,794.17 404.06,786.11 400.95,777.87 397.62,769.42 394.05,760.75 390.21,751.87 386.08,742.74 381.64,733.37 376.87,723.74 371.74,713.83 366.2,703.62 360.25,693.1 353.84,682.25 346.94,671.04 339.51,659.46 331.53,647.47 322.97,635.05 313.79,622.16 303.97,608.77 293.49,594.83 282.34,580.31 270.51,565.15 258,549.28 244.82,532.65 230.98,515.17 216.5,496.76 201.4,477.3 185.71,456.67 169.46,434.72 152.67,411.27 135.37,386.11 117.57,358.96 99.3,329.47 80.58,297.22 61.45,261.61 41.98,221.89 22.25,176.97 2.48,125.28 -16.96,64.4"/>
<polyline points="476.24,872.16 475.48,865.76 474.66,859.23 473.77,852.58 472.82,845.8 471.79,838.88 470.68,831.82 469.48,824.62 468.18,817.25 466.78,809.73 465.27,802.04 463.63,794.17 461.86,786.11 459.93,777.87 457.85,769.42 455.58,760.75 453.12,751.87 450.44,742.74 447.52,733.37 444.34,723.74 440.87,713.83 437.08,703.62 432.94,693.1 428.4,682.25 423.43,671.04 417.98,659.46 412.01,647.47 405.46,635.05 398.28,622.16 390.4,608.77 381.77,594.83 372.34,580.31 362.04,565.15 350.83,549.28 338.68,532.65 325.55,515.17 311.44,496.76 296.35,477.3 280.31,456.67 263.34,434.72 245.49,411.27 226.81,386.11 207.35,358.96 187.15,329.47 166.26,297.22 144.71,261.61 122.57,221.89 99.91,176.97 76.88,125.28 53.77,64.4"/>
<polyline points="523.72,872.16 523.56,865.76 523.36,859.23 523.14,852.58 522.87,845.8 522.56,838.88 522.2,831.82 521.8,824.62 521.34,817.25 520.81,809.73 520.23,802.04 519.56,794.17 518.82,786.11 517.98,777.87 517.05,769.42 516.01,760.75 514.84,751.87 513.54,742.74 512.08,733.37 510.45,723.74 508.64,713.83 506.61,703.62 504.34,693.1 501.8,682.25 498.95,671.04 495.77,659.46 492.19,647.47 488.16,635.05 483.64,622.16 478.54,608.77 472.8,594.83 466.32,580.31 459,565.15 450.75,549.28 441.45,532.65 430.98,515.17 419.22,496.76 406.09,477.3 391.5,456.67 375.39,434.72 357.76,411.27 338.63,386.11 318.08,358.96 296.18,329.47 273.04,297.22 248.77,261.61 223.46,221.89 197.2,176.97 170.11,125.28 142.41,64.4"/>
<polyline points="571.42,872.16 571.78,865.76 572.12,859.23 572.46,852.58 572.78,845.8 573.09,838.88 573.38,831.82 573.66,824.62 573.91,817.25 574.14,809.73 574.34,802.04 574.51,794.17 574.65,786.11 574.74,777.87 574.79,769.42 574.8,760.75 574.74,751.87 574.62,742.74 574.42,733.37 574.14,723.74 573.77,713.83 573.28,703.62 572.68,693.1 571.92,682.25 571,671.04 569.9,659.46 568.57,647.47 566.99,635.05 565.11,622.16 562.88,608.77 560.25,594.83 557.15,580.31 553.48,565.15 549.15,549.28 544.04,532.65 537.99,515.17 530.83,496.76 522.37,477.3 512.36,456.67 500.56,434.72 486.69,411.27 470.53,386.11 451.87,358.96 430.62,329.47 406.82,297.22 380.6,261.61 352.19,221.89 321.85,176.97 289.8,125.28 256.3,64.4"/>
<polyline points="619.35,872.16 620.14,865.76 620.93,859.23 621.74,852.58 622.55,845.8 623.37,838.88 624.2,831.82 625.03,824.62 625.87,817.25 626.71,809.73 627.56,802.04 628.41,794.17 629.26,786.11 630.11,777.87 630.96,769.42 631.8,760.75 632.64,751.87 633.47,742.74 634.28,733.37 635.08,723.74 635.85,713.83 636.6,703.62 637.32,693.1 637.99,682.25 638.61,671.04 639.16,659.46 639.64,647.47 640.03,635.05 640.3,622.16 640.44,608.77 640.41,594.83 640.17,580.31 639.68,565.15 638.89,549.28 637.72,532.65 636.09,515.17 633.87,496.76 630.91,477.3 627.03,456.67 621.98,434.72 615.43,411.27 606.96,386.11 596.04,358.96 582.04,329.47 564.25,297.22 542.01,261.61 514.87,221.89 482.84,176.97 446.37,125.28 406.16,64.4"/>
<polyline points="667.5,872.16 668.64,865.76 669.8,859.23 670.98,852.58 672.19,845.8 673.42,838.88 674.67,831.82 675.95,824.62 677.25,817.25 678.58,809.73 679.94,802.04 681.32,794.17 682.73,786.11 684.17,777.87 685.63,769.42 687.13,760.75 688.65,751.87 690.21,742.74 691.79,733.37 693.41,723.74 695.05,713.83 696.73,703.62 698.43,693.1 700.17,682.25 701.93,671.04 703.71,659.46 705.52,647.47 707.35,635.05 709.19,622.16 711.04,608.77 712.89,594.83 714.73,580.31 716.55,565.15 718.33,549.28 720.03,532.65 721.64,515.17 723.11,496.76 724.38,477.3 725.37,456.67 725.98,434.72 726.05,411.27 725.38,386.11 723.64,358.96 720.4,329.47 714.97,297.22 706.35,261.61 693.05,221.89 673,176.97 643.79,125.28 603.72,64.4"/>
<polyline points="715.85,872.16 717.26,865.76 718.71,859.23 720.19,852.58 721.7,845.8 723.25,838.88 724.83,831.82 726.46,824.62 728.12,817.25 729.82,809.73 731.56,802.04 733.35,794.17 735.18,786.11 737.06,777.87 738.99,769.42 740.98,760.75 743.02,751.87 745.11,742.74 747.27,733.37 749.48,723.74 751.76,713.83 754.11,703.62 756.54,693.1 759.03,682.25 761.61,671.04 764.27,659.46 767.01,647.47 769.85,635.05 772.78,622.16 775.81,608.77 778.95,594.83 782.19,580.31 785.55,565.15 789.03,549.28 792.63,532.65 796.35,515.17 800.2,496.76 804.18,477.3 808.27,456.67 812.47,434.72 816.75,411.27 821.07,386.11 825.36,358.96 829.52,329.47 833.36,297.22 836.54,261.61 838.51,221.89 838.21,176.97 833.64,125.28 820.77,64.4"/>
<polyline points="764.38,872.16 766,865.76 767.66,859.23 769.37,852.58 771.11,845.8 772.9,838.88 774.73,831.82 776.61,824.62 778.54,817.25 780.51,809.73 782.55,802.04 784.63,794.17 786.78,786.11 788.99,777.87 791.26,769.42 793.6,760.75 796.01,751.87 798.49,742.74 801.06,733.37 803.71,723.74 806.44,713.83 809.27,703.62 812.2,693.1 815.23,682.25 818.37,671.04 821.63,659.46 825.02,647.47 828.55,635.05 832.22,622.16 836.04,608.77 840.03,594.83 844.2,580.31 848.57,565.15 853.15,549.28 857.96,532.65 863.02,515.17 868.35,496.76 873.99,477.3 879.95,456.67 886.28,434.72 893,411.27 900.18,386.11 907.84,358.96 916.06,329.47 924.87,297.22 934.33,261.61 944.47,221.89 955.26,176.97 966.49,125.28 977.5,64.4"/>
<polyline points="813.05,872.16 814.83,865.76 816.65,859.23 818.52,852.58 820.43,845.8 822.39,838.88 824.4,831.82 826.47,824.62 828.59,817.25 830.76,809.73 833,802.04 835.3,794.17 837.67,786.11 840.11,777.87 842.62,769.42 845.21,760.75 847.89,751.87 850.65,742.74 853.5,733.37 856.44,723.74 859.49,713.83 862.65,703.62 865.92,693.1 869.32,682.25 872.85,671.04 876.52,659.46 880.34,647.47 884.33,635.05 888.49,622.16 892.84,608.77 897.39,594.83 902.16,580.31 907.18,565.15 912.47,549.28 918.04,532.65 923.93,515.17 930.18,496.76 936.83,477.3 943.92,456.67 951.51,434.72 959.66,411.27 968.46,386.11 978.01,358.96 988.43,329.47 999.87,297.22 1012.54,261.61 1026.68,221.89 1042.64,176.97 1060.9,125.28 1082.08,64.4"/>
</g></g>
<g fill="none" stroke="#008000" stroke-width="2.08" stroke-dasharray="7.71 3.33" stroke-opacity="0.8">
<polyline points="179.16,679.92 175.48,685.14 171.85,690.28 168.29,695.34 164.77,700.33 161.31,705.25 157.9,710.1 154.54,714.88 151.23,719.6 147.96,724.25 144.74,728.84 141.57,733.37 138.43,737.84 135.34,742.26 132.29,746.62 129.28,750.92 126.31,755.17 123.37,759.37 120.48,763.51 117.62,767.61 114.79,771.66 112,775.66 109.24,779.62 106.51,783.53 103.82,787.4 101.16,791.22 98.53,795 95.93,798.74 93.35,802.45 90.81,806.11 88.29,809.73 85.81,813.31 83.34,816.86 80.91,820.37 78.5,823.85 76.12,827.29 73.76,830.7 71.42,834.07 69.11,837.41 66.82,840.72 64.55,844 62.31,847.24 60.09,850.46 57.89,853.64 55.71,856.8 53.55,859.93 51.42,863.03 49.3,866.1 47.2,869.14 45.12,872.16"/>
<polyline points="276.1,679.92 272.56,685.14 269.09,690.28 265.66,695.34 262.29,700.33 258.97,705.25 255.7,710.1 252.48,714.88 249.3,719.6 246.17,724.25 243.08,728.84 240.03,733.37 237.03,737.84 234.07,742.26 231.14,746.62 228.26,750.92 225.41,755.17 222.6,759.37 219.82,763.51 217.08,767.61 214.37,771.66 211.7,775.66 209.06,779.62 206.45,783.53 203.87,787.4 201.32,791.22 198.8,795 196.31,798.74 193.85,802.45 191.42,806.11 189.01,809.73 186.63,813.31 184.27,816.86 181.94,820.37 179.64,823.85 177.36,827.29 175.1,830.7 172.87,834.07 170.66,837.41 168.47,840.72 166.3,844 164.16,847.24 162.04,850.46 159.93,853.64 157.85,856.8 155.79,859.93 153.75,863.03 151.72,866.1 149.72,869.14 147.73,872.16"/>
<polyline points="355.59,679.92 352.18,685.14 348.83,690.28 345.53,695.34 342.28,700.33 339.08,705.25 335.92,710.1 332.82,714.88 329.76,719.6 326.74,724.25 323.76,728.84 320.83,733.37 317.94,737.84 315.08,742.26 312.27,746.62 309.49,750.92 306.75,755.17 304.04,759.37 301.37,763.51 298.73,767.61 296.13,771.66 293.55,775.66 291.01,779.62 288.5,783.53 286.02,787.4 283.57,791.22 281.15,795 278.75,798.74 276.38,802.45 274.04,806.11 271.73,809.73 269.44,813.31 267.18,816.86 264.94,820.37 262.72,823.85 260.53,827.29 258.36,830.7 256.21,834.07 254.09,837.41 251.99,840.72 249.91,844 247.85,847.24 245.81,850.46 243.79,853.64 241.79,856.8 239.81,859.93 237.85,863.03 235.91,866.1 233.98,869.14 232.07,872.16"/>
<polyline points="440.93,679.92 437.67,685.14 434.45,690.28 431.29,695.34 428.18,700.33 425.11,705.25 422.09,710.1 419.11,714.88 416.18,719.6 413.29,724.25 410.44,728.84 407.63,733.37 404.86,737.84 402.13,742.26 399.44,746.62 396.78,750.92 394.15,755.17 391.57,759.37 389.01,763.51 386.49,767.61 384,771.66 381.54,775.66 379.11,779.62 376.71,783.53 374.33,787.4 371.99,791.22 369.68,795 367.39,798.74 365.12,802.45 362.89,806.11 360.68,809.73 358.49,813.31 356.33,816.86 354.19,820.37 352.08,823.85 349.98,827.29 347.91,830.7 345.86,834.07 343.84,837.41 341.83,840.72 339.85,844 337.88,847.24 335.93,850.46 334.01,853.64 332.1,856.8 330.21,859.93 328.34,863.03 326.49,866.1 324.65,869.14 322.84,872.16"/>
<polyline points="514.43,679.92 511.29,685.14 508.2,690.28 505.15,695.34 502.16,700.33 499.21,705.25 496.31,710.1 493.45,714.88 490.63,719.6 487.86,724.25 485.12,728.84 482.42,733.37 479.76,737.84 477.14,742.26 474.55,746.62 472,750.92 469.48,755.17 467,759.37 464.55,763.51 462.13,767.61 459.74,771.66 457.38,775.66 455.05,779.62 452.75,783.53 450.47,787.4 448.23,791.22 446.01,795 443.81,798.74 441.64,802.45 439.5,806.11 437.38,809.73 435.29,813.31 433.22,816.86 431.17,820.37 429.14,823.85 427.14,827.29 425.16,830.7 423.2,834.07 421.25,837.41 419.33,840.72 417.43,844 415.55,847.24 413.69,850.46 411.85,853.64 410.02,856.8 408.22,859.93 406.43,863.03 404.66,866.1 402.9,869.14 401.16,872.16"/>
<polyline points="563.49,679.92 560.44,685.14 557.43,690.28 554.48,695.34 551.56,700.33 548.7,705.25 545.88,710.1 543.1,714.88 540.36,719.6 537.66,724.25 535,728.84 532.38,733.37 529.8,737.84 527.25,742.26 524.74,746.62 522.26,750.92 519.81,755.17 517.4,759.37 515.02,763.51 512.67,767.61 510.35,771.66 508.06,775.66 505.79,779.62 503.56,783.53 501.35,787.4 499.17,791.22 497.02,795 494.89,798.74 492.79,802.45 490.71,806.11 488.65,809.73 486.62,813.31 484.61,816.86 482.63,820.37 480.66,823.85 478.72,827.29 476.8,830.7 474.89,834.07 473.01,837.41 471.15,840.72 469.31,844 467.49,847.24 465.68,850.46 463.9,853.64 462.13,856.8 460.38,859.93 458.64,863.03 456.93,866.1 455.23,869.14 453.55,872.16"/>
<polyline points="630.82,679.92 627.89,685.14 625,690.28 622.16,695.34 619.36,700.33 616.61,705.25 613.9,710.1 611.24,714.88 608.61,719.6 606.02,724.25 603.47,728.84 600.96,733.37 598.48,737.84 596.04,742.26 593.63,746.62 591.25,750.92 588.91,755.17 586.6,759.37 584.31,763.51 582.06,767.61 579.84,771.66 577.65,775.66 575.48,779.62 573.34,783.53 571.23,787.4 569.14,791.22 567.08,795 565.04,798.74 563.03,802.45 561.04,806.11 559.08,809.73 557.13,813.31 555.21,816.86 553.31,820.37 551.43,823.85 549.58,827.29 547.74,830.7 545.92,834.07 544.12,837.41 542.35,840.72 540.59,844 538.84,847.24 537.12,850.46 535.42,853.64 533.73,856.8 532.06,859.93 530.4,863.03 528.76,866.1 527.14,869.14 525.53,872.16"/>
<polyline points="691.27,679.92 688.44,685.14 685.67,690.28 682.93,695.34 680.25,700.33 677.6,705.25 675,710.1 672.43,714.88 669.91,719.6 667.42,724.25 664.97,728.84 662.55,733.37 660.17,737.84 657.83,742.26 655.51,746.62 653.23,750.92 650.98,755.17 648.76,759.37 646.57,763.51 644.41,767.61 642.28,771.66 640.18,775.66 638.1,779.62 636.05,783.53 634.02,787.4 632.02,791.22 630.05,795 628.09,798.74 626.16,802.45 624.26,806.11 622.38,809.73 620.51,813.31 618.67,816.86 616.85,820.37 615.06,823.85 613.28,827.29 611.52,830.7 609.78,834.07 608.06,837.41 606.36,840.72 604.67,844 603.01,847.24 601.36,850.46 599.73,853.64 598.11,856.8 596.51,859.93 594.93,863.03 593.37,866.1 591.81,869.14 590.28,872.16"/>
<polyline points="735.38,679.92 732.64,685.14 729.94,690.28 727.29,695.34 724.68,700.33 722.12,705.25 719.59,710.1 717.1,714.88 714.65,719.6 712.24,724.25 709.87,728.84 707.52,733.37 705.22,737.84 702.94,742.26 700.7,746.62 698.49,750.92 696.31,755.17 694.16,759.37 692.04,763.51 689.95,767.61 687.88,771.66 685.84,775.66 683.83,779.62 681.85,783.53 679.89,787.4 677.95,791.22 676.04,795 674.15,798.74 672.28,802.45 670.44,806.11 668.61,809.73 666.81,813.31 665.03,816.86 663.28,820.37 661.54,823.85 659.82,827.29 658.12,830.7 656.43,834.07 654.77,837.41 653.13,840.72 651.5,844 649.89,847.24 648.3,850.46 646.72,853.64 645.16,856.8 643.62,859.93 642.09,863.03 640.58,866.1 639.08,869.14 637.6,872.16"/>
</g>
<g stroke="#b0b0b0" stroke-width="1.11" fill="none">
<line x1="65.5" y1="64.5" x2="605.4" y2="64.5"/>
<line x1="65.5" y1="302.5" x2="605.4" y2="302.5"/>
<line x1="65.5" y1="441.5" x2="605.4" y2="441.5"/>
<line x1="65.5" y1="540.5" x2="605.4" y2="540.5"/>
<line x1="65.5" y1="617.5" x2="605.4" y2="617.5"/>
<line x1="65.5" y1="679.5" x2="605.4" y2="679.5"/>
<line x1="65.5" y1="732.5" x2="605.4" y2="732.5"/>
<line x1="65.5" y1="778.5" x2="605.4" y2="778.5"/>
<line x1="65.5" y1="819.5" x2="605.4" y2="819.5"/>
<line x1="65.5" y1="855.5" x2="605.4" y2="855.5"/>
<line x1="-965.22" y1="871.4" x2="-158.22" y2="64.4"/>
<line x1="-867.05" y1="871.4" x2="-60.05" y2="64.4"/>
<line x1="-768.89" y1="871.4" x2="38.11" y2="64.4"/>
<line x1="-670.73" y1="871.4" x2="136.27" y2="64.4"/>
<line x1="-572.56" y1="871.4" x2="234.44" y2="64.4"/>
<line x1="-474.4" y1="871.4" x2="332.6" y2="64.4"/>
<line x1="-376.24" y1="871.4" x2="430.76" y2="64.4"/>
<line x1="-278.07" y1="871.4" x2="528.93" y2="64.4"/>
<line x1="-179.91" y1="871.4" x2="627.09" y2="64.4"/>
<line x1="-81.75" y1="871.4" x2="725.25" y2="64.4"/>
<line x1="16.42" y1="871.4" x2="823.42" y2="64.4"/>
<line x1="114.58" y1="871.4" x2="921.58" y2="64.4"/>
<line x1="212.75" y1="871.4" x2="1019.75" y2="64.4"/>
<line x1="310.91" y1="871.4" x2="1117.91" y2="64.4"/>
<line x1="409.07" y1="871.4" x2="1216.07" y2="64.4"/>
<line x1="507.24" y1="871.4" x2="1314.24" y2="64.4"/>
<line x1="605.4" y1="871.4" x2="1412.4" y2="64.4"/>
</g>
<polyline points="480.3,822.9 472.8,819.9 466.3,816 459.8,811.5 453.4,806.3 448.2,801.8 443.7,797.2 439.8,792.1 434.6,786.3 428.8,779.8 422.3,773.3 415.9,767.5 409.4,762.3 404.2,758.4 401,754.6 396.5,747.5 391.9,741.6 387.9,736.3 382.1,729.2 373.7,720.2 373,708.5 375,703.4 379.2,695 379.1,684 377.5,674.9 375,665.5 372.5,660 369.1,650.8 363.7,639.6 357.2,627.9 350.8,616.3 341.7,599.5 332.7,584 322.1,563.9 310.9,540 265.3,440 258.5,426 246.9,382.1 253.7,332.9 319.3,280.7 414.1,227.2 473.1,172.9 514,119.5 543.2,64.4" fill="none" stroke="#ff0000" stroke-width="2.08" stroke-linejoin="round"/>
<polyline points="359.9,822.8 356.3,818.6 353.5,815.6 344.7,812.8 334.3,809.5 325.3,806.3 316.2,802.4 305.2,798.5 301.3,796 299.1,794 302,789.7 312.3,783.7 318.8,779.1 325.9,772.7 333,768.8 340.8,764.9 352.4,761 363.4,757.8 365.3,754.6 366.9,750 362.8,744.2 358.2,737.1 355,730 354.3,720.2 350,718 333.5,712.2 285,695.3 278.9,680.5 281.5,648.1 277.8,630 272.8,619.1 267.5,610 260.8,600 249.8,584.1 239.5,571.8 229.1,560.2 218.8,544.7 211,531.7 204.6,514.9 200.1,500 195.6,475.7 193.4,457.6 193.4,441 193.7,425.3 185.9,404 177.2,380.2 169.8,360 159.3,332.8 165.9,293.1 167.6,282.8 167.2,227.6 193.4,200 290,102 326.9,64.4" fill="none" stroke="#008000" stroke-width="2.08" stroke-linejoin="round"/>
<polyline points="480.3,822.9 469.21,814.52 457.99,805.92 446.62,797.11 435.11,788.06 423.44,778.77 411.62,769.22 399.64,759.4 394.65,750.6 390.76,741.8 386.69,733.01 382.44,724.21 378.02,715.41 373.41,706.61 368.62,697.82 363.65,689.02 358.5,680.22 353.17,671.42 347.67,662.63 342,653.83 336.17,645.03 330.18,636.23 324.05,627.44 317.78,618.64 311.39,609.84 304.88,601.04 298.27,592.25 291.57,583.45 284.79,574.65 277.95,565.85 271.06,557.06 264.13,548.26 257.18,539.46 250.21,530.66 243.25,521.87 236.29,513.07 229.36,504.27 222.46,495.47 215.59,486.68 208.78,477.88 202.02,469.08 195.32,460.28 188.68,451.49 182.13,442.69 175.64,433.89 169.24,425.1 162.93,416.3 156.7,407.5 150.56,398.7 144.52,389.91 138.57,381.11 132.71,372.31 126.96,363.51 121.29,354.72 115.73,345.92 110.27,337.12 104.9,328.32 99.63,319.53 94.46,310.73 89.39,301.93 84.42,293.13 79.55,284.34 74.77,275.54 70.09,266.74 65.51,257.94 61.03,249.15 56.64,240.35 52.35,231.55 48.15,222.75 44.05,213.96 40.04,205.16 36.12,196.36 32.29,187.56 28.56,178.77 24.92,169.97 21.37,161.17 17.91,152.37 14.54,143.58 11.25,134.78 8.06,125.98 4.95,117.18 1.93,108.39 -1.01,99.59 -3.86,90.79 -6.62,81.99 -9.3,73.2 -11.9,64.4" fill="none" stroke="#002453" stroke-width="0.75" />
<line x1="352.9" y1="705.9" x2="394.8" y2="705.9" stroke="#0000ff" stroke-width="4.17"/>
<line x1="369" y1="739" x2="410.9" y2="739" stroke="#a52a2a" stroke-width="4.17"/>
<line x1="377.1" y1="759" x2="419" y2="759" stroke="#ffa500" stroke-width="4.17"/>
</g>
<g stroke="#002453" stroke-width="1.11" fill="none">
<line x1="65.5" y1="63.85" x2="65.5" y2="871.95"/>
<line x1="64.95" y1="871.5" x2="605.95" y2="871.5"/>
<line x1="60.64" y1="64.5" x2="65.5" y2="64.5"/>
<line x1="60.64" y1="302.5" x2="65.5" y2="302.5"/>
<line x1="60.64" y1="441.5" x2="65.5" y2="441.5"/>
<line x1="60.64" y1="540.5" x2="65.5" y2="540.5"/>
<line x1="60.64" y1="617.5" x2="65.5" y2="617.5"/>
<line x1="60.64" y1="679.5" x2="65.5" y2="679.5"/>
<line x1="60.64" y1="732.5" x2="65.5" y2="732.5"/>
<line x1="60.64" y1="778.5" x2="65.5" y2="778.5"/>
<line x1="60.64" y1="819.5" x2="65.5" y2="819.5"/>
<line x1="60.64" y1="855.5" x2="65.5" y2="855.5"/>
<line x1="114.5" y1="871.4" x2="114.5" y2="876.26"/>
<line x1="212.5" y1="871.4" x2="212.5" y2="876.26"/>
<line x1="310.5" y1="871.4" x2="310.5" y2="876.26"/>
<line x1="409.5" y1="871.4" x2="409.5" y2="876.26"/>
<line x1="507.5" y1="871.4" x2="507.5" y2="876.26"/>
<line x1="605.5" y1="871.4" x2="605.5" y2="876.26"/>
</g>
<text x="53.7" y="69.45" font-size="13.89" text-anchor="end" fill="#002453" textLength="26.51" lengthAdjust="spacingAndGlyphs">100</text>
<text x="53.7" y="307.56" font-size="13.89" text-anchor="end" fill="#002453" textLength="26.51" lengthAdjust="spacingAndGlyphs">200</text>
<text x="53.7" y="446.85" font-size="13.89" text-anchor="end" fill="#002453" textLength="26.51" lengthAdjust="spacingAndGlyphs">300</text>
<text x="53.7" y="545.68" font-size="13.89" text-anchor="end" fill="#002453" textLength="26.51" lengthAdjust="spacingAndGlyphs">400</text>
<text x="53.7" y="622.34" font-size="13.89" text-anchor="end" fill="#002453" textLength="26.51" lengthAdjust="spacingAndGlyphs">500</text>
<text x="53.7" y="684.97" font-size="13.89" text-anchor="end" fill="#002453" textLength="26.51" lengthAdjust="spacingAndGlyphs">600</text>
<text x="53.7" y="737.92" font-size="13.89" text-anchor="end" fill="#002453" textLength="26.51" lengthAdjust="spacingAndGlyphs">700</text>
<text x="53.7" y="783.79" font-size="13.89" text-anchor="end" fill="#002453" textLength="26.51" lengthAdjust="spacingAndGlyphs">800</text>
<text x="53.7" y="824.26" font-size="13.89" text-anchor="end" fill="#002453" textLength="26.51" lengthAdjust="spacingAndGlyphs">900</text>
<text x="53.7" y="860.45" font-size="13.89" text-anchor="end" fill="#002453" textLength="35.35" lengthAdjust="spacingAndGlyphs">1000</text>
<text x="114.58" y="891.7" font-size="13.89" text-anchor="middle" fill="#002453" textLength="29.31" lengthAdjust="spacingAndGlyphs">−20</text>
<text x="212.75" y="891.7" font-size="13.89" text-anchor="middle" fill="#002453" textLength="29.31" lengthAdjust="spacingAndGlyphs">−10</text>
<text x="310.91" y="891.7" font-size="13.89" text-anchor="middle" fill="#002453">0</text>
<text x="409.07" y="891.7" font-size="13.89" text-anchor="middle" fill="#002453" textLength="17.68" lengthAdjust="spacingAndGlyphs">10</text>
<text x="507.24" y="891.7" font-size="13.89" text-anchor="middle" fill="#002453" textLength="17.68" lengthAdjust="spacingAndGlyphs">20</text>
<text x="605.4" y="891.7" font-size="13.89" text-anchor="middle" fill="#002453" textLength="17.68" lengthAdjust="spacingAndGlyphs">30</text>
<text x="334.3" y="912" font-size="13.89" text-anchor="middle" fill="#002453" textLength="118.83" lengthAdjust="spacingAndGlyphs">Temperature (℃)</text>
<text x="10.3" y="467.9" font-size="13.89" text-anchor="middle" fill="#002453" textLength="145.02" lengthAdjust="spacingAndGlyphs" transform="rotate(-90 10.3 467.9)">Isobaric Height (hPa)</text>
<text x="424.5" y="20.5" font-size="25" text-anchor="middle" fill="#002453" textLength="837.32" lengthAdjust="spacingAndGlyphs">Ellsworth AFB, SD; Model Run 2026-04-05 12 UTC; WRF Domain 02</text>
<text x="334.5" y="55.5" font-size="20.83" text-anchor="middle" fill="#002453" textLength="439.12" lengthAdjust="spacingAndGlyphs">2026-04-05 18 UTC  (2026-04-05 12 MDT)</text>
<text x="172.8" y="85.5" font-size="13.89" text-anchor="end" fill="#002453" textLength="80.19" lengthAdjust="spacingAndGlyphs">LCL Height:</text>
<text x="177.2" y="85.5" font-size="13.89" text-anchor="start" fill="#002453" textLength="66.55" lengthAdjust="spacingAndGlyphs">2394.0 m</text>
<text x="172.8" y="103.5" font-size="13.89" text-anchor="end" fill="#002453" textLength="80.44" lengthAdjust="spacingAndGlyphs">LFC Height:</text>
<text x="177.2" y="103.5" font-size="13.89" text-anchor="start" fill="#002453" textLength="66.55" lengthAdjust="spacingAndGlyphs">2856.0 m</text>
<text x="172.8" y="121.5" font-size="13.89" text-anchor="end" fill="#002453" textLength="41.36" lengthAdjust="spacingAndGlyphs">MLLR:</text>
<text x="177.2" y="121.5" font-size="13.89" text-anchor="start" fill="#002453" textLength="35.61" lengthAdjust="spacingAndGlyphs">6.0 K</text>
<text x="172.8" y="139.5" font-size="13.89" text-anchor="end" fill="#002453" textLength="59.14" lengthAdjust="spacingAndGlyphs">SBCAPE:</text>
<text x="177.2" y="139.5" font-size="13.89" text-anchor="start" fill="#002453" textLength="60.98" lengthAdjust="spacingAndGlyphs">13.0 J/kg</text>
<text x="172.8" y="157.5" font-size="13.89" text-anchor="end" fill="#002453" textLength="46.97" lengthAdjust="spacingAndGlyphs">SBCIN:</text>
<text x="177.2" y="157.5" font-size="13.89" text-anchor="start" fill="#002453" textLength="57.15" lengthAdjust="spacingAndGlyphs">-1.4 J/kg</text>
<text x="172.8" y="175.5" font-size="13.89" text-anchor="end" fill="#002453" textLength="60.76" lengthAdjust="spacingAndGlyphs">MLCAPE:</text>
<text x="177.2" y="175.5" font-size="13.89" text-anchor="start" fill="#002453" textLength="52.14" lengthAdjust="spacingAndGlyphs">0.0 J/kg</text>
<text x="172.8" y="193.5" font-size="13.89" text-anchor="end" fill="#002453" textLength="48.59" lengthAdjust="spacingAndGlyphs">MLCIN:</text>
<text x="177.2" y="193.5" font-size="13.89" text-anchor="start" fill="#002453" textLength="52.14" lengthAdjust="spacingAndGlyphs">0.0 J/kg</text>
<text x="172.8" y="211.5" font-size="13.89" text-anchor="end" fill="#002453" textLength="63.18" lengthAdjust="spacingAndGlyphs">MUCAPE:</text>
<text x="177.2" y="211.5" font-size="13.89" text-anchor="start" fill="#002453" textLength="60.98" lengthAdjust="spacingAndGlyphs">13.0 J/kg</text>
<text x="172.8" y="229.5" font-size="13.89" text-anchor="end" fill="#002453" textLength="98.16" lengthAdjust="spacingAndGlyphs">Shear 0-1 km:</text>
<text x="177.2" y="229.5" font-size="13.89" text-anchor="start" fill="#002453" textLength="51.95" lengthAdjust="spacingAndGlyphs">8.5 m/s</text>
<text x="172.8" y="247.5" font-size="13.89" text-anchor="end" fill="#002453" textLength="98.16" lengthAdjust="spacingAndGlyphs">Shear 0-6 km:</text>
<text x="177.2" y="247.5" font-size="13.89" text-anchor="start" fill="#002453" textLength="60.79" lengthAdjust="spacingAndGlyphs">26.0 m/s</text>
<text x="172.8" y="265.5" font-size="13.89" text-anchor="end" fill="#002453" textLength="86.68" lengthAdjust="spacingAndGlyphs">SRH 0-1 km:</text>
<text x="177.2" y="265.5" font-size="13.89" text-anchor="start" fill="#002453" textLength="76.94" lengthAdjust="spacingAndGlyphs">-60.4 m²/s²</text>
<text x="172.8" y="283.5" font-size="13.89" text-anchor="end" fill="#002453" textLength="86.68" lengthAdjust="spacingAndGlyphs">SRH 0-3 km:</text>
<text x="177.2" y="283.5" font-size="13.89" text-anchor="start" fill="#002453" textLength="85.77" lengthAdjust="spacingAndGlyphs">-113.2 m²/s²</text>
<circle cx="154.88" cy="871.2" r="22.3" fill="#ffffff" stroke="#bbbbbb" stroke-width="0.8"/>
<line x1="155.48" y1="872" x2="155.48" y2="849.9" stroke="#002453" stroke-width="1.5" stroke-linecap="butt"/>
<text x="154.8" y="834.9" font-size="13.89" text-anchor="middle" fill="#002453" textLength="62.6" lengthAdjust="spacingAndGlyphs">Sun-MDT</text>
<g fill="#002453" stroke="#002453" stroke-width="2.0" stroke-linejoin="miter">
<polygon points="605.4,67.3 571.56,63.74 568.75,49.76 571.56,63.74 575.79,64.19 572.98,50.21 575.79,64.19 580.02,64.63 577.21,50.65 580.02,64.63 584.25,65.08 582.85,58.09 584.25,65.08 605.4,67.3"/>
<polygon points="605.4,120.9 572.86,110.95 572.77,96.69 572.86,110.95 576.93,112.19 576.84,97.93 576.93,112.19 580.99,113.44 580.91,99.18 580.99,113.44 585.06,114.68 584.97,100.42 585.06,114.68 589.13,115.93 589.09,108.8 589.13,115.93 605.4,120.9"/>
<polygon points="605.4,173.8 573.94,160.83 583.06,149.87 581.8,164.07 585.74,165.7 586.36,158.59 585.74,165.7 605.4,173.8"/>
<polygon points="605.4,227.1 573.44,215.41 582.12,204.09 581.43,218.33 585.43,219.79 586.11,205.55 585.43,219.79 605.4,227.1"/>
<polygon points="605.4,280.6 574.39,266.6 583.86,255.94 582.14,270.1 586.02,271.85 587.74,257.69 586.02,271.85 589.89,273.6 590.76,266.52 589.89,273.6 605.4,280.6"/>
<polygon points="605.4,333.2 576.54,315.17 587.36,305.88 583.76,319.68 587.36,321.93 590.97,308.13 587.36,321.93 590.97,324.18 594.58,310.39 590.97,324.18 594.58,326.44 596.38,319.54 594.58,326.44 605.4,333.2"/>
<polygon points="605.4,382 577.53,362.48 588.82,353.77 584.49,367.36 587.98,369.8 592.3,356.21 587.98,369.8 591.46,372.24 595.79,358.65 591.46,372.24 594.95,374.68 597.11,367.89 594.95,374.68 605.4,382"/>
<polygon points="605.4,426.2 578.01,406.01 589.51,397.58 584.86,411.06 588.28,413.58 592.94,400.1 588.28,413.58 591.71,416.1 596.36,402.62 591.71,416.1 595.13,418.63 597.46,411.89 595.13,418.63 605.4,426.2"/>
<polygon points="605.4,465.3 578.26,444.77 589.86,436.48 585.04,449.91 588.44,452.47 593.26,439.05 588.44,452.47 591.83,455.04 596.65,441.62 591.83,455.04 605.4,465.3"/>
<polygon points="605.4,500.4 578.22,479.92 589.81,471.61 585.02,485.04 588.42,487.6 593.21,474.17 588.42,487.6 591.81,490.16 594.21,483.45 591.81,490.16 605.4,500.4"/>
<polygon points="605.4,531.9 577.8,512 589.21,503.44 584.7,516.97 588.15,519.46 592.66,505.93 588.15,519.46 605.4,531.9"/>
<polygon points="605.4,560.1 577.36,540.83 588.57,532.02 584.37,545.64 587.87,548.05 589.98,541.24 587.87,548.05 605.4,560.1"/>
<polygon points="605.4,585.5 577.39,566.18 588.62,557.39 584.39,571.01 605.4,585.5"/>
<polygon points="605.4,608.6 577.49,589.13 581.79,575.53 577.49,589.13 580.98,591.56 585.28,577.97 580.98,591.56 584.47,594 588.77,580.4 584.47,594 587.96,596.43 592.26,582.84 587.96,596.43 591.45,598.87 593.6,592.07 591.45,598.87 605.4,608.6"/>
<polygon points="605.4,648 576.17,630.58 579.49,616.71 576.17,630.58 579.83,632.75 583.14,618.88 579.83,632.75 583.48,634.93 586.79,621.06 583.48,634.93 587.13,637.11 590.45,623.24 587.13,637.11 605.4,648"/>
<polygon points="605.4,680.8 575.81,663.99 578.84,650.06 575.81,663.99 579.51,666.09 582.54,652.16 579.51,666.09 583.21,668.19 586.23,654.26 583.21,668.19 586.91,670.3 588.42,663.33 586.91,670.3 605.4,680.8"/>
<polygon points="605.4,708.3 577.36,689.03 581.56,675.4 577.36,689.03 580.86,691.44 585.07,677.81 580.86,691.44 584.37,693.84 588.57,680.22 584.37,693.84 605.4,708.3"/>
<polygon points="605.4,731.1 577.53,711.58 581.85,697.99 577.53,711.58 581.01,714.02 585.33,700.43 581.01,714.02 584.49,716.46 586.66,709.67 584.49,716.46 605.4,731.1"/>
<polygon points="605.4,750 578.51,729.14 583.49,715.78 578.51,729.14 581.87,731.75 586.86,718.39 581.87,731.75 605.4,750"/>
<polygon points="605.4,766 577.19,746.97 581.27,733.31 577.19,746.97 580.72,749.35 584.8,735.69 580.72,749.35 605.4,766"/>
<polygon points="605.4,778.5 577.87,758.5 582.43,744.99 577.87,758.5 581.31,761 583.59,754.24 581.31,761 605.4,778.5"/>
<polygon points="605.4,782.9 580.11,760.13 586.06,747.17 580.11,760.13 605.4,782.9"/>
<polygon points="605.4,788.6 584.22,761.97 592.22,750.17 584.22,761.97 605.4,788.6"/>
<polygon points="605.4,793.8 586.87,765.26 595.97,754.28 586.87,765.26 605.4,793.8"/>
<polygon points="605.4,799.3 592.1,767.98 602.97,758.74 592.1,767.98 605.4,799.3"/>
<polygon points="605.4,803 593.21,771.23 604.39,762.38 593.21,771.23 605.4,803"/>
<polygon points="605.4,805.9 595.28,773.41 607.01,765.3 595.28,773.41 605.4,805.9"/>
<polygon points="605.4,810.5 596.02,777.79 607.93,769.95 596.02,777.79 605.4,810.5"/>
<polygon points="605.4,812.9 599.84,779.33 612.58,772.91 599.84,779.33 605.4,812.9"/>
<polygon points="605.4,816 603.03,782.06 603.47,788.42 610.11,785.82 603.47,788.42 605.4,816"/>
<polygon points="605.4,819.1 605.7,785.07 619.34,780.94 605.7,785.07 605.4,819.1"/>
<polygon points="605.4,822.5 607.77,788.56 621.65,785.26 607.77,788.56 605.4,822.5"/>
</g>
<defs><clipPath id="ch"><rect x="690.9" y="82.6" width="188.8" height="188.8"/></clipPath></defs>
<g clip-path="url(#ch)">
<g fill="none" stroke="#808080" stroke-width="1.39" stroke-dasharray="5.14 2.22">
<circle cx="785.3" cy="177" r="23.6"/>
<circle cx="785.3" cy="177" r="47.2"/>
<circle cx="785.3" cy="177" r="70.8"/>
<circle cx="785.3" cy="177" r="94.4"/>
<circle cx="785.3" cy="177" r="118"/>
<circle cx="785.3" cy="177" r="141.6"/>
<circle cx="785.3" cy="177" r="165.2"/>
</g>
<g fill="none" stroke="#808080" stroke-width="2.08" stroke-dasharray="7.71 3.33">
<line x1="690.9" y1="177" x2="879.7" y2="177"/>
<line x1="785" y1="271.4" x2="785" y2="82.6"/>
</g>
<line x1="690.9" y1="271.4" x2="722.37" y2="271.4" stroke="#002453" stroke-width="4.7"/>
<line x1="782.6" y1="191.7" x2="783.83" y2="192.57" stroke="#000084" stroke-width="3.8" stroke-linecap="butt"/>
<line x1="783.83" y1="192.57" x2="785.05" y2="193.45" stroke="#00008d" stroke-width="3.8" stroke-linecap="butt"/>
<line x1="785.05" y1="193.45" x2="786.27" y2="194.32" stroke="#00009b" stroke-width="3.8" stroke-linecap="butt"/>
<line x1="786.27" y1="194.32" x2="787.5" y2="195.2" stroke="#0000a4" stroke-width="3.8" stroke-linecap="butt"/>
<line x1="787.5" y1="195.2" x2="788.7" y2="195.92" stroke="#0000b2" stroke-width="3.8" stroke-linecap="butt"/>
<line x1="788.7" y1="195.92" x2="789.9" y2="196.65" stroke="#0000bf" stroke-width="3.8" stroke-linecap="butt"/>
<line x1="789.9" y1="196.65" x2="791.1" y2="197.38" stroke="#0000c8" stroke-width="3.8" stroke-linecap="butt"/>
<line x1="791.1" y1="197.38" x2="792.3" y2="198.1" stroke="#0000d6" stroke-width="3.8" stroke-linecap="butt"/>
<line x1="792.3" y1="198.1" x2="793.72" y2="197.2" stroke="#0000df" stroke-width="3.8" stroke-linecap="butt"/>
<line x1="793.72" y1="197.2" x2="795.15" y2="196.3" stroke="#0000ed" stroke-width="3.8" stroke-linecap="butt"/>
<line x1="795.15" y1="196.3" x2="796.58" y2="195.4" stroke="#0000f6" stroke-width="3.8" stroke-linecap="butt"/>
<line x1="796.58" y1="195.4" x2="798" y2="194.5" stroke="#0000ff" stroke-width="3.8" stroke-linecap="butt"/>
<line x1="798" y1="194.5" x2="799.5" y2="193.47" stroke="#0000ff" stroke-width="3.8" stroke-linecap="butt"/>
<line x1="799.5" y1="193.47" x2="801" y2="192.45" stroke="#0008ff" stroke-width="3.8" stroke-linecap="butt"/>
<line x1="801" y1="192.45" x2="802.5" y2="191.43" stroke="#0014ff" stroke-width="3.8" stroke-linecap="butt"/>
<line x1="802.5" y1="191.43" x2="804" y2="190.4" stroke="#001cff" stroke-width="3.8" stroke-linecap="butt"/>
<line x1="804" y1="190.4" x2="805" y2="191.18" stroke="#0028ff" stroke-width="3.8" stroke-linecap="butt"/>
<line x1="805" y1="191.18" x2="806" y2="191.95" stroke="#0034ff" stroke-width="3.8" stroke-linecap="butt"/>
<line x1="806" y1="191.95" x2="807" y2="192.72" stroke="#0040ff" stroke-width="3.8" stroke-linecap="butt"/>
<line x1="807" y1="192.72" x2="808" y2="193.5" stroke="#0050ff" stroke-width="3.8" stroke-linecap="butt"/>
<line x1="808" y1="193.5" x2="808.92" y2="194.18" stroke="#005cff" stroke-width="3.8" stroke-linecap="butt"/>
<line x1="808.92" y1="194.18" x2="809.85" y2="194.85" stroke="#0068ff" stroke-width="3.8" stroke-linecap="butt"/>
<line x1="809.85" y1="194.85" x2="810.78" y2="195.52" stroke="#0074ff" stroke-width="3.8" stroke-linecap="butt"/>
<line x1="810.78" y1="195.52" x2="811.7" y2="196.2" stroke="#0080ff" stroke-width="3.8" stroke-linecap="butt"/>
<line x1="811.7" y1="196.2" x2="813.28" y2="196.77" stroke="#0090ff" stroke-width="3.8" stroke-linecap="butt"/>
<line x1="813.28" y1="196.77" x2="814.85" y2="197.35" stroke="#009cff" stroke-width="3.8" stroke-linecap="butt"/>
<line x1="814.85" y1="197.35" x2="816.42" y2="197.93" stroke="#00a8ff" stroke-width="3.8" stroke-linecap="butt"/>
<line x1="816.42" y1="197.93" x2="818" y2="198.5" stroke="#00b4ff" stroke-width="3.8" stroke-linecap="butt"/>
<line x1="818" y1="198.5" x2="819.67" y2="198.9" stroke="#00c0ff" stroke-width="3.8" stroke-linecap="butt"/>
<line x1="819.67" y1="198.9" x2="821.35" y2="199.3" stroke="#00d0ff" stroke-width="3.8" stroke-linecap="butt"/>
<line x1="821.35" y1="199.3" x2="823.03" y2="199.7" stroke="#00dcfe" stroke-width="3.8" stroke-linecap="butt"/>
<line x1="823.03" y1="199.7" x2="824.7" y2="200.1" stroke="#02e8f4" stroke-width="3.8" stroke-linecap="butt"/>
<line x1="824.7" y1="200.1" x2="825.23" y2="201.02" stroke="#0cf4eb" stroke-width="3.8" stroke-linecap="butt"/>
<line x1="825.23" y1="201.02" x2="825.75" y2="201.95" stroke="#16ffe1" stroke-width="3.8" stroke-linecap="butt"/>
<line x1="825.75" y1="201.95" x2="826.27" y2="202.88" stroke="#1cffdb" stroke-width="3.8" stroke-linecap="butt"/>
<line x1="826.27" y1="202.88" x2="826.8" y2="203.8" stroke="#26ffd1" stroke-width="3.8" stroke-linecap="butt"/>
<line x1="826.8" y1="203.8" x2="827.22" y2="204.8" stroke="#2cffca" stroke-width="3.8" stroke-linecap="butt"/>
<line x1="827.22" y1="204.8" x2="827.65" y2="205.8" stroke="#33ffc4" stroke-width="3.8" stroke-linecap="butt"/>
<line x1="827.65" y1="205.8" x2="828.08" y2="206.8" stroke="#39ffbe" stroke-width="3.8" stroke-linecap="butt"/>
<line x1="828.08" y1="206.8" x2="828.5" y2="207.8" stroke="#40ffb7" stroke-width="3.8" stroke-linecap="butt"/>
<line x1="828.5" y1="207.8" x2="829.62" y2="208.6" stroke="#46ffb1" stroke-width="3.8" stroke-linecap="butt"/>
<line x1="829.62" y1="208.6" x2="830.75" y2="209.4" stroke="#4dffaa" stroke-width="3.8" stroke-linecap="butt"/>
<line x1="830.75" y1="209.4" x2="831.88" y2="210.2" stroke="#56ffa0" stroke-width="3.8" stroke-linecap="butt"/>
<line x1="831.88" y1="210.2" x2="833" y2="211" stroke="#60ff97" stroke-width="3.8" stroke-linecap="butt"/>
<line x1="833" y1="211" x2="834.15" y2="211.68" stroke="#66ff90" stroke-width="3.8" stroke-linecap="butt"/>
<line x1="834.15" y1="211.68" x2="835.3" y2="212.35" stroke="#73ff83" stroke-width="3.8" stroke-linecap="butt"/>
<line x1="835.3" y1="212.35" x2="836.45" y2="213.02" stroke="#7dff7a" stroke-width="3.8" stroke-linecap="butt"/>
<line x1="836.45" y1="213.02" x2="837.6" y2="213.7" stroke="#87ff70" stroke-width="3.8" stroke-linecap="butt"/>
<line x1="837.6" y1="213.7" x2="838.45" y2="214.65" stroke="#94ff63" stroke-width="3.8" stroke-linecap="butt"/>
<line x1="838.45" y1="214.65" x2="839.3" y2="215.6" stroke="#9dff5a" stroke-width="3.8" stroke-linecap="butt"/>
<line x1="839.3" y1="215.6" x2="840.15" y2="216.55" stroke="#aaff4d" stroke-width="3.8" stroke-linecap="butt"/>
<line x1="840.15" y1="216.55" x2="841" y2="217.5" stroke="#b7ff40" stroke-width="3.8" stroke-linecap="butt"/>
<line x1="841" y1="217.5" x2="841.77" y2="218.65" stroke="#c4ff33" stroke-width="3.8" stroke-linecap="butt"/>
<line x1="841.77" y1="218.65" x2="842.55" y2="219.8" stroke="#d4ff23" stroke-width="3.8" stroke-linecap="butt"/>
<line x1="842.55" y1="219.8" x2="843.33" y2="220.95" stroke="#e1ff16" stroke-width="3.8" stroke-linecap="butt"/>
<line x1="843.33" y1="220.95" x2="844.1" y2="222.1" stroke="#f1fc06" stroke-width="3.8" stroke-linecap="butt"/>
<line x1="844.1" y1="222.1" x2="844.95" y2="222.82" stroke="#feed00" stroke-width="3.8" stroke-linecap="butt"/>
<line x1="844.95" y1="222.82" x2="845.8" y2="223.55" stroke="#ffe200" stroke-width="3.8" stroke-linecap="butt"/>
<line x1="845.8" y1="223.55" x2="846.65" y2="224.28" stroke="#ffd700" stroke-width="3.8" stroke-linecap="butt"/>
<line x1="846.65" y1="224.28" x2="847.5" y2="225" stroke="#ffcc00" stroke-width="3.8" stroke-linecap="butt"/>
<line x1="847.5" y1="225" x2="848.25" y2="225.55" stroke="#ffbd00" stroke-width="3.8" stroke-linecap="butt"/>
<line x1="848.25" y1="225.55" x2="849" y2="226.1" stroke="#ffb200" stroke-width="3.8" stroke-linecap="butt"/>
<line x1="849" y1="226.1" x2="849.75" y2="226.65" stroke="#ffa300" stroke-width="3.8" stroke-linecap="butt"/>
<line x1="849.75" y1="226.65" x2="850.5" y2="227.2" stroke="#ff9400" stroke-width="3.8" stroke-linecap="butt"/>
<line x1="850.5" y1="227.2" x2="851.62" y2="227.6" stroke="#ff8200" stroke-width="3.8" stroke-linecap="butt"/>
<line x1="851.62" y1="227.6" x2="852.75" y2="228" stroke="#ff6f00" stroke-width="3.8" stroke-linecap="butt"/>
<line x1="852.75" y1="228" x2="853.88" y2="228.4" stroke="#ff5d00" stroke-width="3.8" stroke-linecap="butt"/>
<line x1="853.88" y1="228.4" x2="855" y2="228.8" stroke="#ff4a00" stroke-width="3.8" stroke-linecap="butt"/>
<line x1="855" y1="228.8" x2="855.83" y2="228.98" stroke="#ff3b00" stroke-width="3.8" stroke-linecap="butt"/>
<line x1="855.83" y1="228.98" x2="856.65" y2="229.15" stroke="#ff2d00" stroke-width="3.8" stroke-linecap="butt"/>
<line x1="856.65" y1="229.15" x2="857.47" y2="229.32" stroke="#ff1e00" stroke-width="3.8" stroke-linecap="butt"/>
<line x1="857.47" y1="229.32" x2="858.3" y2="229.5" stroke="#fa0f00" stroke-width="3.8" stroke-linecap="butt"/>
<line x1="858.3" y1="229.5" x2="859.12" y2="229.6" stroke="#df0000" stroke-width="3.8" stroke-linecap="butt"/>
<line x1="859.12" y1="229.6" x2="859.95" y2="229.7" stroke="#bf0000" stroke-width="3.8" stroke-linecap="butt"/>
<line x1="859.95" y1="229.7" x2="860.78" y2="229.8" stroke="#9b0000" stroke-width="3.8" stroke-linecap="butt"/>
<line x1="860.78" y1="229.8" x2="861.6" y2="229.9" stroke="#800000" stroke-width="3.8" stroke-linecap="butt"/>
</g>
<g stroke="#002453" stroke-width="1.11" fill="none">
<line x1="690.5" y1="82.05" x2="690.5" y2="271.95"/>
<line x1="690.35" y1="271.5" x2="880.25" y2="271.5"/>
<line x1="686.04" y1="271.5" x2="690.9" y2="271.5"/>
<line x1="690.5" y1="271.4" x2="690.5" y2="276.26"/>
<line x1="686.04" y1="224.5" x2="690.9" y2="224.5"/>
<line x1="738.5" y1="271.4" x2="738.5" y2="276.26"/>
<line x1="686.04" y1="177.5" x2="690.9" y2="177.5"/>
<line x1="785.5" y1="271.4" x2="785.5" y2="276.26"/>
<line x1="686.04" y1="129.5" x2="690.9" y2="129.5"/>
<line x1="832.5" y1="271.4" x2="832.5" y2="276.26"/>
<line x1="686.04" y1="82.5" x2="690.9" y2="82.5"/>
<line x1="879.5" y1="271.4" x2="879.5" y2="276.26"/>
</g>
<text x="681.7" y="276.45" font-size="13.89" text-anchor="end" fill="#002453" textLength="29.31" lengthAdjust="spacingAndGlyphs">−40</text>
<text x="690.9" y="291.9" font-size="13.89" text-anchor="middle" fill="#002453" textLength="29.31" lengthAdjust="spacingAndGlyphs">−40</text>
<text x="681.7" y="229.25" font-size="13.89" text-anchor="end" fill="#002453" textLength="29.31" lengthAdjust="spacingAndGlyphs">−20</text>
<text x="738.1" y="291.9" font-size="13.89" text-anchor="middle" fill="#002453" textLength="29.31" lengthAdjust="spacingAndGlyphs">−20</text>
<text x="681.7" y="182.05" font-size="13.89" text-anchor="end" fill="#002453">0</text>
<text x="785.3" y="291.9" font-size="13.89" text-anchor="middle" fill="#002453">0</text>
<text x="681.7" y="134.85" font-size="13.89" text-anchor="end" fill="#002453" textLength="17.68" lengthAdjust="spacingAndGlyphs">20</text>
<text x="832.5" y="291.9" font-size="13.89" text-anchor="middle" fill="#002453" textLength="17.68" lengthAdjust="spacingAndGlyphs">20</text>
<text x="681.7" y="87.65" font-size="13.89" text-anchor="end" fill="#002453" textLength="17.68" lengthAdjust="spacingAndGlyphs">40</text>
<text x="879.7" y="291.9" font-size="13.89" text-anchor="middle" fill="#002453" textLength="17.68" lengthAdjust="spacingAndGlyphs">40</text>
<g transform="translate(785.3 307)" fill="#002453">
<text x="-31.78" y="0" font-size="13.89" textLength="43.82" lengthAdjust="spacingAndGlyphs">u (m s</text>
<text x="12.03" y="-5.3" font-size="9.72" textLength="14.33" lengthAdjust="spacingAndGlyphs">−1</text>
<text x="26.36" y="0" font-size="13.89">)</text>
</g>
<g transform="translate(647.3 177) rotate(-90)" fill="#002453">
<text x="-31.49" y="0" font-size="13.89" textLength="43.23" lengthAdjust="spacingAndGlyphs">v (m s</text>
<text x="11.74" y="-5.3" font-size="9.72" textLength="14.33" lengthAdjust="spacingAndGlyphs">−1</text>
<text x="26.07" y="0" font-size="13.89">)</text>
</g>
<defs><linearGradient id="jet" x1="0" x2="1" y1="0" y2="0"><stop offset="0" stop-color="#000080"/><stop offset="0.02" stop-color="#000092"/><stop offset="0.03" stop-color="#0000a4"/><stop offset="0.05" stop-color="#0000b6"/><stop offset="0.06" stop-color="#0000c8"/><stop offset="0.08" stop-color="#0000da"/><stop offset="0.09" stop-color="#0000ed"/><stop offset="0.11" stop-color="#0000ff"/><stop offset="0.12" stop-color="#0000ff"/><stop offset="0.14" stop-color="#0010ff"/><stop offset="0.16" stop-color="#0020ff"/><stop offset="0.17" stop-color="#0030ff"/><stop offset="0.19" stop-color="#0040ff"/><stop offset="0.2" stop-color="#0050ff"/><stop offset="0.22" stop-color="#0060ff"/><stop offset="0.23" stop-color="#0070ff"/><stop offset="0.25" stop-color="#0080ff"/><stop offset="0.27" stop-color="#0090ff"/><stop offset="0.28" stop-color="#00a0ff"/><stop offset="0.3" stop-color="#00b0ff"/><stop offset="0.31" stop-color="#00c0ff"/><stop offset="0.33" stop-color="#00d0ff"/><stop offset="0.34" stop-color="#00e0fb"/><stop offset="0.36" stop-color="#09f0ee"/><stop offset="0.38" stop-color="#16ffe1"/><stop offset="0.39" stop-color="#23ffd4"/><stop offset="0.41" stop-color="#30ffc7"/><stop offset="0.42" stop-color="#3cffba"/><stop offset="0.44" stop-color="#49ffad"/><stop offset="0.45" stop-color="#56ffa0"/><stop offset="0.47" stop-color="#63ff94"/><stop offset="0.48" stop-color="#70ff87"/><stop offset="0.5" stop-color="#7dff7a"/><stop offset="0.52" stop-color="#8aff6d"/><stop offset="0.53" stop-color="#97ff60"/><stop offset="0.55" stop-color="#a4ff53"/><stop offset="0.56" stop-color="#b1ff46"/><stop offset="0.58" stop-color="#beff39"/><stop offset="0.59" stop-color="#caff2c"/><stop offset="0.61" stop-color="#d7ff1f"/><stop offset="0.62" stop-color="#e4ff13"/><stop offset="0.64" stop-color="#f1fc06"/><stop offset="0.66" stop-color="#feed00"/><stop offset="0.67" stop-color="#ffde00"/><stop offset="0.69" stop-color="#ffd000"/><stop offset="0.7" stop-color="#ffc100"/><stop offset="0.72" stop-color="#ffb200"/><stop offset="0.73" stop-color="#ffa300"/><stop offset="0.75" stop-color="#ff9400"/><stop offset="0.77" stop-color="#ff8600"/><stop offset="0.78" stop-color="#ff7700"/><stop offset="0.8" stop-color="#ff6800"/><stop offset="0.81" stop-color="#ff5900"/><stop offset="0.83" stop-color="#ff4a00"/><stop offset="0.84" stop-color="#ff3b00"/><stop offset="0.86" stop-color="#ff2d00"/><stop offset="0.88" stop-color="#ff1e00"/><stop offset="0.89" stop-color="#fa0f00"/><stop offset="0.91" stop-color="#e80000"/><stop offset="0.92" stop-color="#d60000"/><stop offset="0.94" stop-color="#c40000"/><stop offset="0.95" stop-color="#b20000"/><stop offset="0.97" stop-color="#9f0000"/><stop offset="0.98" stop-color="#8d0000"/><stop offset="1" stop-color="#800000"/></linearGradient></defs>
<rect x="650.2" y="312.1" width="270.7" height="13.1" fill="url(#jet)" stroke="#002453" stroke-width="1.11"/>
<g stroke="#002453" stroke-width="1.11">
<line x1="650.5" y1="325.2" x2="650.5" y2="330.06"/>
<line x1="704.5" y1="325.2" x2="704.5" y2="330.06"/>
<line x1="758.5" y1="325.2" x2="758.5" y2="330.06"/>
<line x1="812.5" y1="325.2" x2="812.5" y2="330.06"/>
<line x1="866.5" y1="325.2" x2="866.5" y2="330.06"/>
<line x1="920.5" y1="325.2" x2="920.5" y2="330.06"/>
</g>
<text x="650.2" y="345.4" font-size="13.89" text-anchor="middle" fill="#002453">0</text>
<text x="704.34" y="345.4" font-size="13.89" text-anchor="middle" fill="#002453">2</text>
<text x="758.48" y="345.4" font-size="13.89" text-anchor="middle" fill="#002453">4</text>
<text x="812.62" y="345.4" font-size="13.89" text-anchor="middle" fill="#002453">6</text>
<text x="866.76" y="345.4" font-size="13.89" text-anchor="middle" fill="#002453">8</text>
<text x="918.9" y="345.4" font-size="13.89" text-anchor="middle" fill="#002453" textLength="17.68" lengthAdjust="spacingAndGlyphs">10</text>
<text x="785.55" y="365.6" font-size="13.89" text-anchor="middle" fill="#002453" textLength="114.92" lengthAdjust="spacingAndGlyphs">Height (km AGL)</text>
</svg>
</body></html>
